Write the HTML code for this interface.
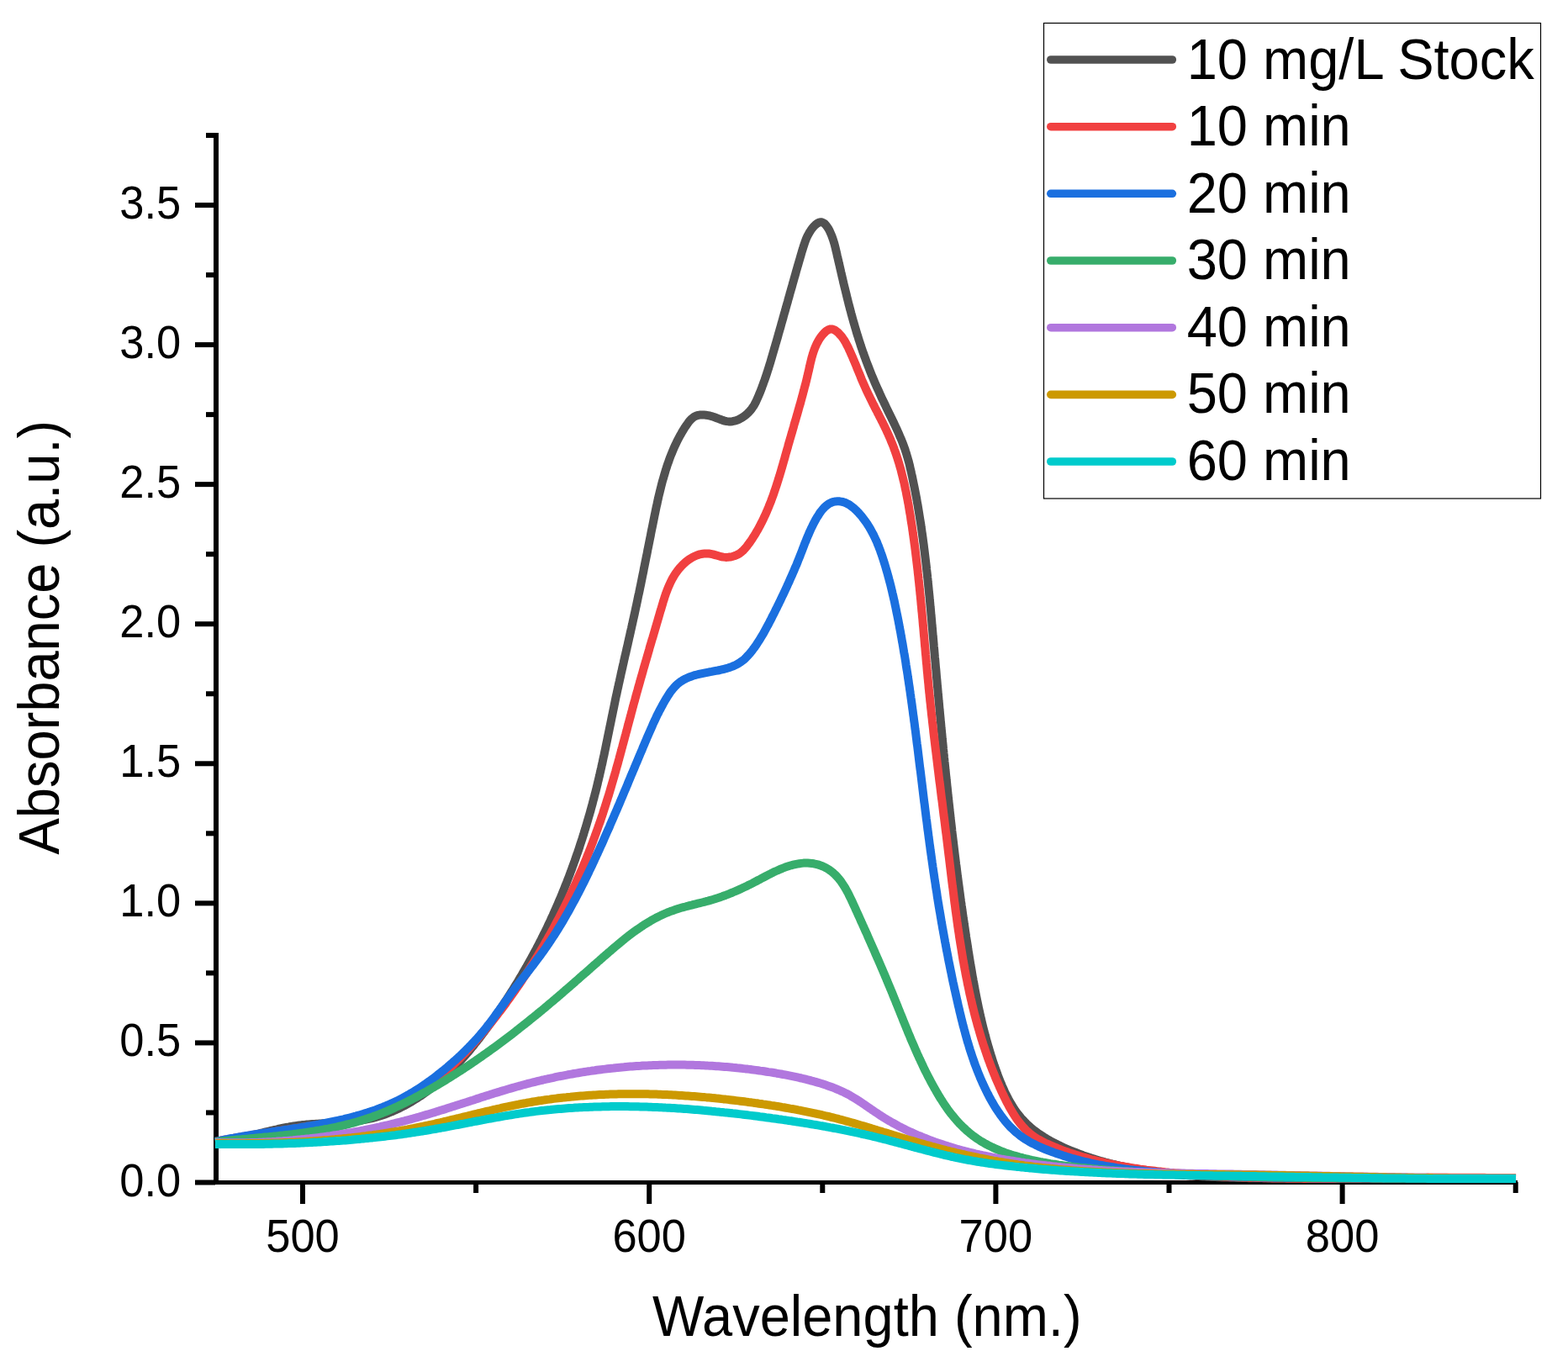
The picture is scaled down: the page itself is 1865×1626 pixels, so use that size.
<!DOCTYPE html>
<html><head><meta charset="utf-8"><title>Absorbance spectra</title>
<style>
html,body{margin:0;padding:0;background:#fff;}
body{width:1865px;height:1626px;overflow:hidden;}
svg{display:block;}
text{font-family:"Liberation Sans",Arial,sans-serif;fill:#000;}
</style></head><body>
<svg width="1865" height="1626" viewBox="0 0 1865 1626">
<rect x="0" y="0" width="1865" height="1626" fill="#fff"/>

<rect x="254" y="158" width="6" height="1251" fill="#000"/>
<rect x="232" y="1404" width="1573" height="5" fill="#000"/>
<rect x="232" y="1403.50" width="24" height="6" fill="#000"/>
<rect x="245" y="1320.46" width="11" height="6" fill="#000"/>
<rect x="232" y="1237.43" width="24" height="6" fill="#000"/>
<rect x="245" y="1154.39" width="11" height="6" fill="#000"/>
<rect x="232" y="1071.36" width="24" height="6" fill="#000"/>
<rect x="245" y="988.33" width="11" height="6" fill="#000"/>
<rect x="232" y="905.29" width="24" height="6" fill="#000"/>
<rect x="245" y="822.25" width="11" height="6" fill="#000"/>
<rect x="232" y="739.22" width="24" height="6" fill="#000"/>
<rect x="245" y="656.19" width="11" height="6" fill="#000"/>
<rect x="232" y="573.15" width="24" height="6" fill="#000"/>
<rect x="245" y="490.12" width="11" height="6" fill="#000"/>
<rect x="232" y="407.08" width="24" height="6" fill="#000"/>
<rect x="245" y="324.05" width="11" height="6" fill="#000"/>
<rect x="232" y="241.01" width="24" height="6" fill="#000"/>
<rect x="245" y="157.98" width="11" height="6" fill="#000"/>
<rect x="357.00" y="1406" width="6" height="26" fill="#000"/>
<rect x="563.10" y="1406" width="6" height="13" fill="#000"/>
<rect x="769.20" y="1406" width="6" height="26" fill="#000"/>
<rect x="975.30" y="1406" width="6" height="13" fill="#000"/>
<rect x="1181.40" y="1406" width="6" height="26" fill="#000"/>
<rect x="1387.50" y="1406" width="6" height="13" fill="#000"/>
<rect x="1593.60" y="1406" width="6" height="26" fill="#000"/>
<rect x="1799.70" y="1406" width="6" height="13" fill="#000"/>
<text transform="translate(215.3,1422.5) scale(1,1.045)" font-size="52.5" text-anchor="end">0.0</text>
<text transform="translate(215.3,1256.4) scale(1,1.045)" font-size="52.5" text-anchor="end">0.5</text>
<text transform="translate(215.3,1090.4) scale(1,1.045)" font-size="52.5" text-anchor="end">1.0</text>
<text transform="translate(215.3,924.3) scale(1,1.045)" font-size="52.5" text-anchor="end">1.5</text>
<text transform="translate(215.3,758.2) scale(1,1.045)" font-size="52.5" text-anchor="end">2.0</text>
<text transform="translate(215.3,592.2) scale(1,1.045)" font-size="52.5" text-anchor="end">2.5</text>
<text transform="translate(215.3,426.1) scale(1,1.045)" font-size="52.5" text-anchor="end">3.0</text>
<text transform="translate(215.3,260.0) scale(1,1.045)" font-size="52.5" text-anchor="end">3.5</text>
<text transform="translate(360.0,1488.7) scale(1,1.045)" font-size="52.5" text-anchor="middle">500</text>
<text transform="translate(772.2,1488.7) scale(1,1.045)" font-size="52.5" text-anchor="middle">600</text>
<text transform="translate(1184.4,1488.7) scale(1,1.045)" font-size="52.5" text-anchor="middle">700</text>
<text transform="translate(1596.6,1488.7) scale(1,1.045)" font-size="52.5" text-anchor="middle">800</text>
<text transform="translate(1031.3,1589) scale(1,1.045)" font-size="65" text-anchor="middle">Wavelength (nm.)</text>
<text transform="translate(69.6,758.2) rotate(-90) scale(1,1.045)" font-size="65" text-anchor="middle">Absorbance (a.u.)</text>
<path d="M256.0,1358.0 L258.5,1357.8 L261.0,1357.5 L263.5,1357.2 L266.0,1356.9 L268.5,1356.6 L270.9,1356.2 L273.4,1355.8 L275.9,1355.4 L278.3,1355.0 L280.8,1354.5 L283.2,1354.0 L285.7,1353.5 L288.1,1353.0 L290.6,1352.5 L293.0,1351.9 L295.4,1351.4 L297.9,1350.8 L300.3,1350.2 L302.7,1349.6 L305.2,1349.1 L307.6,1348.5 L310.0,1347.9 L312.5,1347.3 L314.9,1346.7 L317.3,1346.1 L319.8,1345.5 L322.2,1344.9 L324.6,1344.4 L327.0,1343.8 L329.5,1343.3 L331.9,1342.7 L334.4,1342.2 L336.8,1341.7 L339.3,1341.2 L341.7,1340.8 L344.2,1340.3 L346.6,1339.9 L349.1,1339.5 L351.6,1339.1 L354.0,1338.8 L356.5,1338.4 L359.0,1338.1 L361.5,1337.9 L364.0,1337.6 L366.5,1337.4 L369.0,1337.2 L371.5,1337.0 L374.0,1336.9 L376.5,1336.7 L379.0,1336.6 L381.6,1336.4 L384.1,1336.3 L386.6,1336.2 L389.1,1336.0 L391.6,1335.9 L394.1,1335.8 L396.7,1335.7 L399.2,1335.5 L401.7,1335.4 L404.2,1335.2 L406.7,1335.1 L409.2,1334.9 L411.7,1334.7 L414.2,1334.5 L416.7,1334.3 L419.2,1334.0 L421.7,1333.7 L424.1,1333.4 L426.6,1333.1 L429.1,1332.7 L431.5,1332.3 L434.0,1331.9 L436.4,1331.4 L438.9,1330.9 L441.3,1330.4 L443.7,1329.8 L446.1,1329.2 L448.5,1328.5 L450.9,1327.8 L453.3,1327.0 L455.6,1326.2 L458.0,1325.4 L460.3,1324.6 L462.6,1323.7 L465.0,1322.7 L467.3,1321.8 L469.5,1320.8 L471.8,1319.7 L474.1,1318.7 L476.3,1317.6 L478.6,1316.4 L480.8,1315.3 L483.0,1314.1 L485.2,1312.9 L487.3,1311.7 L489.5,1310.4 L491.6,1309.1 L493.7,1307.8 L495.8,1306.5 L497.9,1305.1 L500.0,1303.8 L502.0,1302.4 L504.1,1300.9 L506.1,1299.5 L508.1,1298.0 L510.1,1296.5 L512.0,1295.0 L514.0,1293.5 L515.9,1291.9 L517.8,1290.4 L519.7,1288.8 L521.6,1287.2 L523.5,1285.6 L525.4,1283.9 L527.2,1282.3 L529.0,1280.6 L530.9,1278.9 L532.7,1277.2 L534.4,1275.4 L536.2,1273.7 L538.0,1271.9 L539.7,1270.2 L541.5,1268.4 L543.2,1266.6 L544.9,1264.8 L546.6,1262.9 L548.3,1261.1 L550.0,1259.2 L551.6,1257.4 L553.3,1255.5 L554.9,1253.6 L556.6,1251.7 L558.2,1249.8 L559.8,1247.8 L561.4,1245.9 L563.0,1244.0 L564.5,1242.0 L566.1,1240.0 L567.7,1238.1 L569.2,1236.1 L570.8,1234.1 L572.3,1232.1 L573.8,1230.1 L575.3,1228.1 L576.8,1226.0 L578.3,1224.0 L579.8,1222.0 L581.3,1219.9 L582.7,1217.9 L584.2,1215.9 L585.6,1213.8 L587.1,1211.7 L588.5,1209.7 L590.0,1207.6 L591.4,1205.6 L592.8,1203.5 L594.2,1201.4 L595.6,1199.3 L597.0,1197.3 L598.4,1195.2 L599.8,1193.1 L601.1,1191.0 L602.5,1188.9 L603.9,1186.8 L605.2,1184.7 L606.6,1182.6 L607.9,1180.5 L609.2,1178.4 L610.6,1176.3 L611.9,1174.1 L613.2,1172.0 L614.5,1169.9 L615.8,1167.8 L617.1,1165.6 L618.3,1163.5 L619.6,1161.4 L620.9,1159.2 L622.1,1157.1 L623.4,1154.9 L624.6,1152.8 L625.9,1150.6 L627.1,1148.4 L628.3,1146.3 L629.5,1144.1 L630.8,1141.9 L632.0,1139.8 L633.1,1137.6 L634.3,1135.4 L635.5,1133.2 L636.7,1131.0 L637.9,1128.8 L639.0,1126.6 L640.2,1124.4 L641.3,1122.2 L642.4,1120.0 L643.6,1117.8 L644.7,1115.5 L645.8,1113.3 L646.9,1111.1 L648.0,1108.9 L649.1,1106.6 L650.2,1104.4 L651.3,1102.1 L652.3,1099.9 L653.4,1097.6 L654.5,1095.4 L655.5,1093.1 L656.5,1090.9 L657.6,1088.6 L658.6,1086.3 L659.6,1084.0 L660.6,1081.8 L661.6,1079.5 L662.6,1077.2 L663.6,1074.9 L664.6,1072.6 L665.6,1070.3 L666.6,1068.0 L667.5,1065.7 L668.5,1063.4 L669.4,1061.1 L670.4,1058.8 L671.3,1056.4 L672.2,1054.1 L673.2,1051.8 L674.1,1049.5 L675.0,1047.1 L675.9,1044.8 L676.8,1042.5 L677.7,1040.1 L678.5,1037.8 L679.4,1035.4 L680.3,1033.1 L681.1,1030.7 L682.0,1028.4 L682.8,1026.0 L683.7,1023.7 L684.5,1021.3 L685.3,1018.9 L686.1,1016.6 L687.0,1014.2 L687.8,1011.8 L688.6,1009.5 L689.4,1007.1 L690.1,1004.7 L690.9,1002.3 L691.7,999.9 L692.5,997.6 L693.2,995.2 L694.0,992.8 L694.7,990.4 L695.4,988.0 L696.2,985.6 L696.9,983.2 L697.6,980.8 L698.3,978.4 L699.0,976.0 L699.7,973.6 L700.4,971.2 L701.1,968.8 L701.8,966.4 L702.5,964.0 L703.1,961.6 L703.8,959.1 L704.5,956.7 L705.1,954.3 L705.7,951.9 L706.4,949.5 L707.0,947.1 L707.6,944.6 L708.3,942.2 L708.9,939.8 L709.5,937.4 L710.1,934.9 L710.7,932.5 L711.2,930.1 L711.8,927.7 L712.4,925.2 L713.0,922.8 L713.5,920.4 L714.1,917.9 L714.6,915.5 L715.2,913.1 L715.7,910.6 L716.3,908.2 L716.8,905.8 L717.3,903.3 L717.8,900.9 L718.4,898.5 L718.9,896.0 L719.4,893.6 L719.9,891.2 L720.4,888.7 L720.9,886.3 L721.4,883.8 L721.9,881.4 L722.4,879.0 L722.9,876.5 L723.4,874.1 L723.9,871.7 L724.4,869.2 L724.9,866.8 L725.4,864.3 L725.9,861.9 L726.4,859.4 L726.9,857.0 L727.4,854.6 L727.9,852.1 L728.4,849.7 L728.9,847.2 L729.4,844.8 L729.9,842.4 L730.4,839.9 L730.9,837.5 L731.4,835.0 L731.9,832.6 L732.4,830.1 L732.9,827.7 L733.5,825.3 L734.0,822.8 L734.5,820.4 L735.1,817.9 L735.6,815.5 L736.1,813.1 L736.7,810.6 L737.2,808.2 L737.8,805.7 L738.3,803.3 L738.8,800.8 L739.4,798.4 L739.9,796.0 L740.5,793.5 L741.0,791.1 L741.6,788.6 L742.1,786.2 L742.7,783.7 L743.2,781.3 L743.8,778.9 L744.4,776.4 L744.9,774.0 L745.5,771.5 L746.0,769.1 L746.6,766.7 L747.1,764.2 L747.7,761.8 L748.2,759.3 L748.8,756.9 L749.3,754.5 L749.9,752.0 L750.4,749.6 L751.0,747.1 L751.5,744.7 L752.1,742.2 L752.6,739.8 L753.1,737.4 L753.7,734.9 L754.2,732.5 L754.8,730.0 L755.3,727.6 L755.8,725.2 L756.3,722.7 L756.9,720.3 L757.4,717.8 L757.9,715.4 L758.4,713.0 L758.9,710.5 L759.4,708.1 L760.0,705.6 L760.5,703.2 L761.0,700.7 L761.5,698.3 L762.0,695.9 L762.5,693.4 L763.0,691.0 L763.5,688.5 L764.0,686.1 L764.5,683.6 L765.0,681.2 L765.5,678.8 L765.9,676.3 L766.4,673.9 L766.9,671.4 L767.4,669.0 L767.9,666.5 L768.4,664.1 L768.9,661.6 L769.4,659.2 L769.9,656.8 L770.3,654.3 L770.8,651.9 L771.3,649.4 L771.8,647.0 L772.3,644.5 L772.8,642.1 L773.3,639.6 L773.8,637.2 L774.2,634.7 L774.7,632.3 L775.2,629.8 L775.7,627.4 L776.2,624.9 L776.7,622.4 L777.2,620.0 L777.7,617.5 L778.2,615.1 L778.7,612.6 L779.2,610.2 L779.7,607.7 L780.2,605.3 L780.7,602.8 L781.3,600.4 L781.8,597.9 L782.3,595.5 L782.9,593.0 L783.4,590.6 L784.0,588.1 L784.6,585.7 L785.2,583.3 L785.8,580.8 L786.4,578.4 L787.0,576.0 L787.6,573.6 L788.3,571.2 L789.0,568.8 L789.7,566.4 L790.4,564.0 L791.1,561.6 L791.8,559.2 L792.6,556.9 L793.3,554.5 L794.1,552.1 L795.0,549.8 L795.8,547.4 L796.6,545.1 L797.5,542.8 L798.4,540.5 L799.4,538.2 L800.3,535.9 L801.3,533.6 L802.3,531.3 L803.3,529.1 L804.4,526.8 L805.5,524.6 L806.6,522.3 L807.8,520.1 L809.0,517.9 L810.3,515.7 L811.5,513.5 L812.9,511.3 L814.2,509.1 L815.6,507.0 L817.1,504.9 L818.6,502.7 L820.2,500.7 L821.9,498.8 L823.7,497.2 L825.6,495.8 L827.7,494.8 L829.9,494.0 L832.2,493.6 L834.6,493.4 L837.1,493.4 L839.6,493.7 L842.2,494.1 L844.8,494.7 L847.3,495.4 L849.9,496.3 L852.4,497.2 L854.8,498.1 L857.2,499.0 L859.5,499.9 L861.9,500.6 L864.2,501.1 L866.6,501.4 L868.9,501.4 L871.3,501.2 L873.7,500.7 L876.0,500.0 L878.4,499.1 L880.6,497.9 L882.9,496.6 L885.0,495.2 L887.1,493.6 L889.0,491.8 L890.9,490.0 L892.6,488.1 L894.2,486.1 L895.6,484.0 L897.0,481.9 L898.2,479.7 L899.3,477.5 L900.3,475.3 L901.3,473.0 L902.3,470.7 L903.2,468.5 L904.2,466.2 L905.1,463.9 L906.0,461.5 L906.8,459.2 L907.7,456.9 L908.5,454.5 L909.4,452.2 L910.2,449.8 L911.0,447.5 L911.8,445.1 L912.6,442.7 L913.3,440.3 L914.1,438.0 L914.8,435.6 L915.6,433.2 L916.3,430.8 L917.0,428.4 L917.7,426.0 L918.4,423.6 L919.1,421.2 L919.8,418.8 L920.5,416.4 L921.2,414.0 L921.9,411.6 L922.6,409.2 L923.3,406.8 L924.0,404.4 L924.7,402.0 L925.4,399.6 L926.0,397.2 L926.7,394.8 L927.4,392.4 L928.1,390.0 L928.8,387.6 L929.4,385.2 L930.1,382.8 L930.8,380.4 L931.5,378.0 L932.1,375.6 L932.8,373.2 L933.5,370.8 L934.2,368.4 L934.8,366.0 L935.5,363.6 L936.2,361.2 L936.9,358.8 L937.5,356.4 L938.2,354.0 L938.9,351.6 L939.5,349.2 L940.2,346.8 L940.9,344.4 L941.6,342.0 L942.3,339.6 L942.9,337.2 L943.6,334.8 L944.3,332.3 L945.0,329.9 L945.7,327.5 L946.4,325.1 L947.0,322.7 L947.7,320.3 L948.4,317.9 L949.1,315.5 L949.8,313.1 L950.5,310.7 L951.2,308.3 L951.9,305.9 L952.6,303.5 L953.3,301.0 L954.0,298.6 L954.8,296.2 L955.5,293.8 L956.3,291.4 L957.1,289.0 L957.9,286.7 L958.8,284.3 L959.8,282.0 L960.9,279.8 L962.1,277.6 L963.4,275.4 L964.8,273.3 L966.3,271.3 L968.0,269.3 L969.8,267.5 L971.8,265.9 L973.7,264.8 L975.6,264.2 L977.5,264.3 L979.2,265.0 L980.9,266.2 L982.5,267.9 L984.0,269.9 L985.5,272.2 L986.8,274.8 L988.0,277.5 L989.2,280.2 L990.2,283.0 L991.1,285.6 L991.9,288.2 L992.6,290.6 L993.2,293.0 L993.8,295.4 L994.3,297.7 L994.9,300.0 L995.4,302.3 L995.9,304.6 L996.5,307.0 L997.0,309.3 L997.6,311.7 L998.1,314.0 L998.7,316.4 L999.2,318.8 L999.8,321.2 L1000.3,323.6 L1000.9,326.0 L1001.4,328.4 L1002.0,330.8 L1002.6,333.3 L1003.1,335.7 L1003.7,338.1 L1004.3,340.6 L1004.9,343.0 L1005.5,345.4 L1006.1,347.9 L1006.7,350.3 L1007.3,352.8 L1007.9,355.2 L1008.5,357.7 L1009.1,360.1 L1009.7,362.6 L1010.4,365.0 L1011.0,367.5 L1011.7,369.9 L1012.3,372.3 L1013.0,374.8 L1013.6,377.2 L1014.3,379.6 L1015.0,382.1 L1015.7,384.5 L1016.4,386.9 L1017.1,389.3 L1017.8,391.7 L1018.5,394.1 L1019.2,396.5 L1019.9,398.9 L1020.7,401.2 L1021.4,403.6 L1022.2,406.0 L1023.0,408.4 L1023.7,410.7 L1024.5,413.1 L1025.3,415.4 L1026.1,417.8 L1026.9,420.1 L1027.8,422.5 L1028.6,424.8 L1029.5,427.1 L1030.3,429.5 L1031.2,431.8 L1032.1,434.1 L1033.0,436.4 L1033.9,438.8 L1034.8,441.1 L1035.7,443.4 L1036.6,445.7 L1037.6,448.0 L1038.6,450.3 L1039.5,452.6 L1040.5,454.9 L1041.5,457.2 L1042.5,459.5 L1043.5,461.8 L1044.6,464.0 L1045.6,466.3 L1046.6,468.6 L1047.7,470.9 L1048.7,473.2 L1049.8,475.4 L1050.9,477.7 L1052.0,480.0 L1053.1,482.2 L1054.1,484.5 L1055.2,486.7 L1056.3,489.0 L1057.4,491.2 L1058.5,493.5 L1059.6,495.7 L1060.7,498.0 L1061.8,500.2 L1062.9,502.5 L1064.0,504.8 L1065.0,507.0 L1066.1,509.3 L1067.1,511.6 L1068.1,513.8 L1069.1,516.1 L1070.1,518.4 L1071.1,520.7 L1072.1,523.0 L1073.0,525.3 L1073.9,527.6 L1074.8,530.0 L1075.6,532.3 L1076.5,534.6 L1077.2,537.0 L1078.0,539.4 L1078.7,541.8 L1079.4,544.2 L1080.1,546.6 L1080.8,549.0 L1081.4,551.4 L1082.0,553.8 L1082.5,556.3 L1083.1,558.7 L1083.7,561.2 L1084.2,563.6 L1084.8,566.1 L1085.3,568.5 L1085.8,571.0 L1086.3,573.4 L1086.8,575.9 L1087.3,578.3 L1087.8,580.8 L1088.3,583.2 L1088.8,585.7 L1089.2,588.1 L1089.7,590.6 L1090.2,593.1 L1090.6,595.5 L1091.0,598.0 L1091.5,600.4 L1091.9,602.9 L1092.3,605.4 L1092.7,607.8 L1093.1,610.3 L1093.5,612.7 L1093.9,615.2 L1094.3,617.7 L1094.7,620.1 L1095.1,622.6 L1095.5,625.1 L1095.8,627.5 L1096.2,630.0 L1096.5,632.5 L1096.9,634.9 L1097.2,637.4 L1097.6,639.9 L1097.9,642.4 L1098.2,644.8 L1098.6,647.3 L1098.9,649.8 L1099.2,652.3 L1099.5,654.7 L1099.8,657.2 L1100.1,659.7 L1100.4,662.2 L1100.7,664.6 L1101.0,667.1 L1101.3,669.6 L1101.6,672.1 L1101.9,674.6 L1102.1,677.0 L1102.4,679.5 L1102.7,682.0 L1103.0,684.5 L1103.2,687.0 L1103.5,689.4 L1103.7,691.9 L1104.0,694.4 L1104.2,696.9 L1104.5,699.4 L1104.7,701.9 L1105.0,704.3 L1105.2,706.8 L1105.5,709.3 L1105.7,711.8 L1105.9,714.3 L1106.2,716.8 L1106.4,719.3 L1106.6,721.7 L1106.9,724.2 L1107.1,726.7 L1107.3,729.2 L1107.5,731.7 L1107.8,734.2 L1108.0,736.7 L1108.2,739.2 L1108.4,741.6 L1108.6,744.1 L1108.9,746.6 L1109.1,749.1 L1109.3,751.6 L1109.5,754.1 L1109.7,756.6 L1110.0,759.1 L1110.2,761.6 L1110.4,764.0 L1110.6,766.5 L1110.8,769.0 L1111.1,771.5 L1111.3,774.0 L1111.5,776.5 L1111.7,779.0 L1111.9,781.5 L1112.2,784.0 L1112.4,786.5 L1112.6,788.9 L1112.8,791.4 L1113.0,793.9 L1113.3,796.4 L1113.5,798.9 L1113.7,801.4 L1113.9,803.9 L1114.1,806.4 L1114.4,808.9 L1114.6,811.4 L1114.8,813.8 L1115.0,816.3 L1115.3,818.8 L1115.5,821.3 L1115.7,823.8 L1115.9,826.3 L1116.2,828.8 L1116.4,831.3 L1116.6,833.8 L1116.9,836.3 L1117.1,838.8 L1117.3,841.2 L1117.5,843.7 L1117.8,846.2 L1118.0,848.7 L1118.2,851.2 L1118.5,853.7 L1118.7,856.2 L1118.9,858.7 L1119.2,861.2 L1119.4,863.7 L1119.6,866.1 L1119.9,868.6 L1120.1,871.1 L1120.4,873.6 L1120.6,876.1 L1120.8,878.6 L1121.1,881.1 L1121.3,883.6 L1121.6,886.1 L1121.8,888.5 L1122.0,891.0 L1122.3,893.5 L1122.5,896.0 L1122.8,898.5 L1123.0,901.0 L1123.3,903.5 L1123.5,906.0 L1123.8,908.5 L1124.0,910.9 L1124.3,913.4 L1124.5,915.9 L1124.8,918.4 L1125.0,920.9 L1125.3,923.4 L1125.6,925.9 L1125.8,928.4 L1126.1,930.8 L1126.3,933.3 L1126.6,935.8 L1126.9,938.3 L1127.1,940.8 L1127.4,943.3 L1127.6,945.8 L1127.9,948.2 L1128.2,950.7 L1128.4,953.2 L1128.7,955.7 L1129.0,958.2 L1129.3,960.7 L1129.5,963.2 L1129.8,965.6 L1130.1,968.1 L1130.4,970.6 L1130.6,973.1 L1130.9,975.6 L1131.2,978.1 L1131.5,980.5 L1131.8,983.0 L1132.1,985.5 L1132.3,988.0 L1132.6,990.5 L1132.9,993.0 L1133.2,995.4 L1133.5,997.9 L1133.8,1000.4 L1134.1,1002.9 L1134.4,1005.4 L1134.7,1007.8 L1135.0,1010.3 L1135.3,1012.8 L1135.6,1015.3 L1135.9,1017.8 L1136.2,1020.2 L1136.5,1022.7 L1136.8,1025.2 L1137.1,1027.7 L1137.5,1030.1 L1137.8,1032.6 L1138.1,1035.1 L1138.4,1037.6 L1138.7,1040.1 L1139.0,1042.5 L1139.4,1045.0 L1139.7,1047.5 L1140.0,1050.0 L1140.3,1052.4 L1140.7,1054.9 L1141.0,1057.4 L1141.3,1059.9 L1141.7,1062.3 L1142.0,1064.8 L1142.3,1067.3 L1142.7,1069.8 L1143.0,1072.2 L1143.4,1074.7 L1143.7,1077.2 L1144.1,1079.6 L1144.4,1082.1 L1144.8,1084.6 L1145.1,1087.1 L1145.5,1089.5 L1145.8,1092.0 L1146.2,1094.5 L1146.6,1096.9 L1146.9,1099.4 L1147.3,1101.9 L1147.7,1104.3 L1148.0,1106.8 L1148.4,1109.3 L1148.8,1111.7 L1149.1,1114.2 L1149.5,1116.7 L1149.9,1119.1 L1150.3,1121.6 L1150.7,1124.1 L1151.1,1126.5 L1151.4,1129.0 L1151.8,1131.5 L1152.2,1133.9 L1152.6,1136.4 L1153.0,1138.9 L1153.4,1141.3 L1153.8,1143.8 L1154.2,1146.2 L1154.6,1148.7 L1155.1,1151.2 L1155.5,1153.6 L1155.9,1156.1 L1156.3,1158.5 L1156.7,1161.0 L1157.2,1163.4 L1157.6,1165.9 L1158.1,1168.4 L1158.5,1170.8 L1159.0,1173.3 L1159.4,1175.7 L1159.9,1178.2 L1160.3,1180.6 L1160.8,1183.1 L1161.3,1185.5 L1161.8,1187.9 L1162.3,1190.4 L1162.8,1192.8 L1163.3,1195.3 L1163.8,1197.7 L1164.3,1200.2 L1164.9,1202.6 L1165.4,1205.0 L1165.9,1207.5 L1166.5,1209.9 L1167.1,1212.3 L1167.6,1214.8 L1168.2,1217.2 L1168.8,1219.6 L1169.4,1222.1 L1170.0,1224.5 L1170.6,1226.9 L1171.3,1229.3 L1171.9,1231.7 L1172.6,1234.2 L1173.2,1236.6 L1173.9,1239.0 L1174.6,1241.4 L1175.3,1243.8 L1176.0,1246.2 L1176.7,1248.6 L1177.4,1251.0 L1178.1,1253.4 L1178.9,1255.8 L1179.7,1258.2 L1180.4,1260.6 L1181.2,1263.0 L1182.0,1265.4 L1182.8,1267.8 L1183.7,1270.2 L1184.5,1272.6 L1185.4,1274.9 L1186.2,1277.3 L1187.1,1279.7 L1188.0,1282.1 L1188.9,1284.4 L1189.9,1286.8 L1190.9,1289.1 L1191.8,1291.4 L1192.8,1293.7 L1193.9,1296.0 L1194.9,1298.3 L1196.0,1300.6 L1197.1,1302.8 L1198.3,1305.1 L1199.4,1307.3 L1200.6,1309.4 L1201.8,1311.6 L1203.1,1313.7 L1204.4,1315.8 L1205.7,1317.9 L1207.1,1320.0 L1208.5,1322.0 L1209.9,1324.0 L1211.4,1325.9 L1212.9,1327.8 L1214.5,1329.7 L1216.1,1331.5 L1217.8,1333.3 L1219.5,1335.1 L1221.2,1336.8 L1223.0,1338.5 L1224.8,1340.1 L1226.7,1341.7 L1228.6,1343.3 L1230.5,1344.8 L1232.5,1346.3 L1234.5,1347.8 L1236.6,1349.2 L1238.6,1350.6 L1240.8,1351.9 L1242.9,1353.3 L1245.0,1354.6 L1247.2,1355.8 L1249.4,1357.1 L1251.6,1358.3 L1253.9,1359.4 L1256.1,1360.6 L1258.4,1361.7 L1260.7,1362.8 L1262.9,1363.9 L1265.2,1365.0 L1267.5,1366.0 L1269.9,1367.0 L1272.2,1368.0 L1274.5,1369.0 L1276.8,1369.9 L1279.2,1370.8 L1281.5,1371.7 L1283.9,1372.6 L1286.2,1373.5 L1288.6,1374.4 L1291.0,1375.2 L1293.3,1376.0 L1295.7,1376.8 L1298.1,1377.6 L1300.5,1378.3 L1302.9,1379.1 L1305.3,1379.8 L1307.7,1380.5 L1310.1,1381.2 L1312.5,1381.8 L1314.9,1382.5 L1317.3,1383.1 L1319.7,1383.8 L1322.2,1384.4 L1324.6,1385.0 L1327.0,1385.5 L1329.4,1386.1 L1331.9,1386.7 L1334.3,1387.2 L1336.8,1387.7 L1339.2,1388.2 L1341.6,1388.7 L1344.1,1389.2 L1346.5,1389.7 L1349.0,1390.1 L1351.4,1390.6 L1353.9,1391.0 L1356.3,1391.5 L1358.8,1391.9 L1361.3,1392.3 L1363.7,1392.6 L1366.2,1393.0 L1368.6,1393.4 L1371.1,1393.7 L1373.6,1394.1 L1376.0,1394.4 L1378.5,1394.7 L1381.0,1395.1 L1383.4,1395.4 L1385.9,1395.7 L1388.4,1395.9 L1390.9,1396.2 L1393.3,1396.5 L1395.8,1396.7 L1398.3,1397.0 L1400.8,1397.2 L1403.3,1397.4 L1405.7,1397.7 L1408.2,1397.9 L1410.7,1398.1 L1413.2,1398.3 L1415.7,1398.4 L1418.2,1398.6 L1420.7,1398.8 L1423.1,1399.0 L1425.6,1399.1 L1428.1,1399.3 L1430.6,1399.4 L1433.1,1399.5 L1435.6,1399.7 L1438.1,1399.8 L1440.6,1399.9 L1443.1,1400.0 L1445.6,1400.1 L1448.1,1400.2 L1450.6,1400.3 L1453.1,1400.4 L1455.6,1400.5 L1458.1,1400.6 L1460.6,1400.6 L1463.1,1400.7 L1465.6,1400.8 L1468.1,1400.8 L1470.6,1400.9 L1473.1,1401.0 L1475.6,1401.0 L1478.1,1401.0 L1480.6,1401.1 L1483.1,1401.1 L1485.6,1401.2 L1488.1,1401.2 L1490.6,1401.2 L1493.1,1401.2 L1495.6,1401.3 L1498.1,1401.3 L1500.6,1401.3 L1503.1,1401.3 L1505.6,1401.3 L1508.1,1401.4 L1510.6,1401.4 L1513.2,1401.4 L1515.7,1401.4 L1518.2,1401.4 L1520.7,1401.4 L1523.2,1401.4 L1525.7,1401.4 L1528.2,1401.4 L1530.7,1401.4 L1533.2,1401.5 L1535.7,1401.5 L1538.2,1401.5 L1540.7,1401.5 L1543.2,1401.5 L1545.7,1401.5 L1548.2,1401.5 L1550.7,1401.5 L1553.2,1401.5 L1555.7,1401.5 L1558.2,1401.5 L1560.7,1401.5 L1563.2,1401.5 L1565.7,1401.5 L1568.2,1401.5 L1570.7,1401.5 L1573.2,1401.5 L1575.7,1401.5 L1578.2,1401.5 L1580.7,1401.5 L1583.2,1401.5 L1585.7,1401.5 L1588.2,1401.5 L1590.7,1401.5 L1593.2,1401.5 L1595.7,1401.5 L1598.2,1401.5 L1600.7,1401.5 L1603.2,1401.5 L1605.7,1401.5 L1608.2,1401.5 L1610.6,1401.5 L1613.1,1401.5 L1615.6,1401.5 L1618.1,1401.5 L1620.6,1401.5 L1623.1,1401.5 L1625.6,1401.5 L1628.1,1401.5 L1630.6,1401.5 L1633.1,1401.5 L1635.6,1401.5 L1638.1,1401.5 L1640.6,1401.5 L1643.1,1401.5 L1645.6,1401.5 L1648.1,1401.5 L1650.6,1401.5 L1653.1,1401.5 L1655.6,1401.5 L1658.1,1401.5 L1660.6,1401.5 L1663.1,1401.5 L1665.6,1401.5 L1668.1,1401.5 L1670.6,1401.5 L1673.1,1401.5 L1675.6,1401.4 L1678.0,1401.4 L1680.5,1401.4 L1683.0,1401.4 L1685.5,1401.4 L1688.0,1401.4 L1690.5,1401.4 L1693.0,1401.4 L1695.5,1401.4 L1698.0,1401.4 L1700.5,1401.4 L1703.0,1401.4 L1705.5,1401.4 L1708.0,1401.4 L1710.5,1401.4 L1713.0,1401.4 L1715.5,1401.4 L1718.0,1401.4 L1720.5,1401.4 L1723.0,1401.4 L1725.5,1401.4 L1728.0,1401.4 L1730.5,1401.4 L1733.0,1401.4 L1735.5,1401.4 L1738.0,1401.4 L1740.5,1401.4 L1743.0,1401.4 L1745.5,1401.4 L1748.0,1401.4 L1750.5,1401.4 L1753.0,1401.4 L1755.5,1401.4 L1758.0,1401.4 L1760.5,1401.4 L1763.0,1401.4 L1765.5,1401.4 L1768.0,1401.4 L1770.5,1401.4 L1773.0,1401.4 L1775.5,1401.4 L1778.0,1401.4 L1780.5,1401.4 L1783.0,1401.4 L1785.5,1401.5 L1788.0,1401.5 L1790.5,1401.5 L1793.0,1401.5 L1795.5,1401.5 L1798.0,1401.5 L1800.5,1401.5 L1803.0,1401.5" fill="none" stroke="#515151" stroke-width="10.0" stroke-linejoin="round" stroke-linecap="butt"/>
<path d="M256.0,1358.0 L258.5,1357.5 L261.0,1357.0 L263.5,1356.5 L265.9,1356.0 L268.4,1355.5 L270.9,1355.1 L273.4,1354.6 L275.9,1354.2 L278.3,1353.7 L280.8,1353.3 L283.3,1352.9 L285.7,1352.4 L288.2,1352.0 L290.7,1351.6 L293.1,1351.2 L295.6,1350.8 L298.1,1350.4 L300.5,1350.0 L303.0,1349.6 L305.4,1349.2 L307.9,1348.9 L310.3,1348.5 L312.8,1348.1 L315.2,1347.7 L317.7,1347.4 L320.1,1347.0 L322.6,1346.6 L325.0,1346.2 L327.5,1345.9 L329.9,1345.5 L332.4,1345.2 L334.8,1344.8 L337.3,1344.4 L339.7,1344.1 L342.2,1343.7 L344.6,1343.3 L347.0,1343.0 L349.5,1342.6 L351.9,1342.2 L354.4,1341.8 L356.8,1341.5 L359.3,1341.1 L361.7,1340.7 L364.2,1340.3 L366.6,1339.9 L369.1,1339.5 L371.5,1339.1 L374.0,1338.7 L376.4,1338.3 L378.9,1337.9 L381.4,1337.5 L383.8,1337.0 L386.3,1336.6 L388.7,1336.2 L391.2,1335.7 L393.7,1335.3 L396.1,1334.8 L398.6,1334.3 L401.1,1333.9 L403.5,1333.4 L406.0,1332.9 L408.5,1332.4 L411.0,1331.9 L413.4,1331.3 L415.9,1330.8 L418.4,1330.3 L420.8,1329.7 L423.3,1329.1 L425.8,1328.5 L428.2,1327.9 L430.7,1327.3 L433.2,1326.7 L435.6,1326.0 L438.1,1325.4 L440.5,1324.7 L442.9,1324.0 L445.3,1323.3 L447.7,1322.5 L450.1,1321.7 L452.5,1321.0 L454.9,1320.1 L457.3,1319.3 L459.6,1318.5 L462.0,1317.6 L464.3,1316.7 L466.6,1315.7 L468.9,1314.8 L471.2,1313.8 L473.5,1312.8 L475.7,1311.8 L478.0,1310.7 L480.2,1309.6 L482.4,1308.5 L484.6,1307.3 L486.8,1306.2 L488.9,1304.9 L491.0,1303.7 L493.2,1302.5 L495.3,1301.2 L497.4,1299.9 L499.4,1298.6 L501.5,1297.2 L503.5,1295.8 L505.6,1294.4 L507.6,1293.0 L509.6,1291.6 L511.6,1290.1 L513.6,1288.6 L515.5,1287.1 L517.5,1285.6 L519.4,1284.1 L521.3,1282.5 L523.2,1280.9 L525.1,1279.3 L527.0,1277.7 L528.9,1276.1 L530.7,1274.4 L532.6,1272.8 L534.4,1271.1 L536.3,1269.4 L538.1,1267.7 L539.9,1266.0 L541.7,1264.2 L543.4,1262.5 L545.2,1260.7 L547.0,1258.9 L548.7,1257.1 L550.4,1255.3 L552.2,1253.5 L553.9,1251.7 L555.6,1249.8 L557.3,1248.0 L559.0,1246.1 L560.7,1244.2 L562.3,1242.3 L564.0,1240.5 L565.7,1238.6 L567.3,1236.7 L568.9,1234.7 L570.6,1232.8 L572.2,1230.9 L573.8,1229.0 L575.4,1227.0 L577.0,1225.1 L578.6,1223.1 L580.2,1221.2 L581.8,1219.2 L583.4,1217.3 L584.9,1215.3 L586.5,1213.3 L588.0,1211.4 L589.6,1209.4 L591.1,1207.4 L592.6,1205.4 L594.2,1203.4 L595.7,1201.4 L597.2,1199.4 L598.7,1197.4 L600.2,1195.4 L601.7,1193.4 L603.1,1191.3 L604.6,1189.3 L606.1,1187.3 L607.6,1185.2 L609.0,1183.2 L610.4,1181.2 L611.9,1179.1 L613.3,1177.1 L614.7,1175.0 L616.2,1172.9 L617.6,1170.9 L619.0,1168.8 L620.4,1166.7 L621.8,1164.6 L623.1,1162.6 L624.5,1160.5 L625.9,1158.4 L627.3,1156.3 L628.6,1154.2 L630.0,1152.1 L631.3,1150.0 L632.6,1147.9 L634.0,1145.7 L635.3,1143.6 L636.6,1141.5 L637.9,1139.4 L639.2,1137.2 L640.5,1135.1 L641.8,1133.0 L643.1,1130.8 L644.3,1128.7 L645.6,1126.5 L646.9,1124.4 L648.1,1122.2 L649.3,1120.0 L650.6,1117.9 L651.8,1115.7 L653.0,1113.5 L654.3,1111.3 L655.5,1109.2 L656.7,1107.0 L657.9,1104.8 L659.1,1102.6 L660.2,1100.4 L661.4,1098.2 L662.6,1096.0 L663.7,1093.8 L664.9,1091.6 L666.0,1089.3 L667.2,1087.1 L668.3,1084.9 L669.4,1082.7 L670.6,1080.5 L671.7,1078.2 L672.8,1076.0 L673.9,1073.7 L675.0,1071.5 L676.1,1069.3 L677.1,1067.0 L678.2,1064.8 L679.3,1062.5 L680.3,1060.2 L681.4,1058.0 L682.4,1055.7 L683.5,1053.4 L684.5,1051.2 L685.5,1048.9 L686.5,1046.6 L687.5,1044.3 L688.5,1042.1 L689.5,1039.8 L690.5,1037.5 L691.5,1035.2 L692.5,1032.9 L693.5,1030.6 L694.4,1028.3 L695.4,1026.0 L696.3,1023.7 L697.3,1021.4 L698.2,1019.1 L699.1,1016.7 L700.1,1014.4 L701.0,1012.1 L701.9,1009.8 L702.8,1007.5 L703.7,1005.1 L704.6,1002.8 L705.4,1000.5 L706.3,998.1 L707.2,995.8 L708.0,993.4 L708.9,991.1 L709.7,988.7 L710.6,986.4 L711.4,984.0 L712.2,981.7 L713.1,979.3 L713.9,977.0 L714.7,974.6 L715.5,972.2 L716.3,969.9 L717.1,967.5 L717.8,965.1 L718.6,962.7 L719.4,960.4 L720.1,958.0 L720.9,955.6 L721.6,953.2 L722.4,950.8 L723.1,948.4 L723.9,946.1 L724.6,943.7 L725.3,941.3 L726.0,938.9 L726.7,936.5 L727.4,934.1 L728.1,931.7 L728.8,929.3 L729.5,926.9 L730.2,924.5 L730.9,922.1 L731.6,919.7 L732.3,917.3 L732.9,914.9 L733.6,912.4 L734.3,910.0 L735.0,907.6 L735.6,905.2 L736.3,902.8 L736.9,900.4 L737.6,898.0 L738.2,895.6 L738.9,893.1 L739.5,890.7 L740.2,888.3 L740.8,885.9 L741.5,883.5 L742.1,881.1 L742.8,878.6 L743.4,876.2 L744.1,873.8 L744.7,871.4 L745.4,869.0 L746.0,866.6 L746.6,864.2 L747.3,861.7 L747.9,859.3 L748.6,856.9 L749.2,854.5 L749.9,852.1 L750.5,849.7 L751.1,847.3 L751.8,844.8 L752.4,842.4 L753.1,840.0 L753.7,837.6 L754.4,835.2 L755.1,832.8 L755.7,830.4 L756.4,828.0 L757.0,825.6 L757.7,823.2 L758.4,820.8 L759.0,818.4 L759.7,816.0 L760.4,813.6 L761.1,811.2 L761.7,808.8 L762.4,806.4 L763.1,804.0 L763.8,801.6 L764.5,799.2 L765.1,796.8 L765.8,794.4 L766.5,792.0 L767.2,789.6 L767.9,787.2 L768.6,784.8 L769.3,782.4 L770.0,780.0 L770.7,777.6 L771.4,775.2 L772.1,772.8 L772.7,770.4 L773.4,768.0 L774.1,765.7 L774.8,763.3 L775.5,760.9 L776.3,758.5 L777.0,756.1 L777.7,753.7 L778.4,751.3 L779.1,748.9 L779.8,746.5 L780.5,744.1 L781.2,741.7 L781.9,739.3 L782.6,736.9 L783.3,734.5 L784.0,732.1 L784.7,729.7 L785.4,727.2 L786.2,724.8 L786.9,722.4 L787.6,720.0 L788.3,717.6 L789.0,715.2 L789.8,712.8 L790.5,710.4 L791.3,708.1 L792.1,705.7 L793.0,703.4 L793.9,701.0 L794.8,698.7 L795.8,696.4 L796.8,694.2 L797.9,691.9 L799.0,689.7 L800.2,687.5 L801.4,685.4 L802.7,683.3 L804.1,681.2 L805.6,679.2 L807.2,677.2 L808.8,675.2 L810.5,673.4 L812.3,671.5 L814.2,669.8 L816.1,668.1 L818.1,666.6 L820.1,665.1 L822.3,663.8 L824.4,662.5 L826.6,661.5 L828.9,660.5 L831.2,659.7 L833.5,659.1 L835.9,658.7 L838.2,658.4 L840.7,658.4 L843.1,658.5 L845.5,658.9 L848.0,659.4 L850.5,660.1 L853.0,660.8 L855.5,661.5 L858.0,662.2 L860.6,662.6 L863.2,662.9 L865.8,662.8 L868.4,662.6 L871.0,662.0 L873.4,661.3 L875.8,660.4 L878.1,659.2 L880.2,657.9 L882.2,656.3 L884.0,654.7 L885.7,652.9 L887.4,651.0 L888.9,649.1 L890.4,647.1 L891.9,645.0 L893.3,643.0 L894.7,640.9 L896.0,638.8 L897.4,636.7 L898.7,634.6 L899.9,632.4 L901.2,630.3 L902.4,628.1 L903.6,625.9 L904.7,623.7 L905.9,621.5 L907.0,619.3 L908.1,617.1 L909.1,614.8 L910.2,612.6 L911.2,610.3 L912.2,608.0 L913.1,605.7 L914.1,603.4 L915.0,601.1 L916.0,598.8 L916.9,596.5 L917.7,594.2 L918.6,591.8 L919.5,589.5 L920.3,587.1 L921.1,584.7 L921.9,582.4 L922.7,580.0 L923.5,577.6 L924.3,575.2 L925.0,572.8 L925.8,570.4 L926.5,568.0 L927.3,565.6 L928.0,563.2 L928.7,560.8 L929.4,558.4 L930.1,556.0 L930.8,553.6 L931.5,551.1 L932.2,548.7 L932.9,546.3 L933.6,543.9 L934.2,541.5 L934.9,539.0 L935.6,536.6 L936.3,534.2 L937.0,531.8 L937.6,529.4 L938.3,527.0 L939.0,524.6 L939.7,522.2 L940.4,519.8 L941.1,517.4 L941.8,515.0 L942.5,512.6 L943.2,510.2 L943.9,507.8 L944.5,505.4 L945.2,503.0 L945.9,500.7 L946.6,498.3 L947.3,495.9 L948.0,493.5 L948.7,491.1 L949.4,488.7 L950.0,486.3 L950.7,483.9 L951.4,481.5 L952.1,479.2 L952.7,476.8 L953.4,474.4 L954.0,472.0 L954.7,469.6 L955.3,467.2 L956.0,464.7 L956.6,462.3 L957.2,459.9 L957.9,457.5 L958.5,455.1 L959.1,452.7 L959.7,450.2 L960.3,447.8 L960.8,445.4 L961.4,442.9 L962.0,440.5 L962.5,438.0 L963.1,435.5 L963.6,433.1 L964.2,430.6 L964.8,428.2 L965.4,425.7 L966.1,423.3 L966.8,420.9 L967.6,418.5 L968.4,416.2 L969.3,413.8 L970.3,411.5 L971.3,409.2 L972.5,407.0 L973.7,404.7 L975.1,402.6 L976.6,400.4 L978.2,398.4 L980.0,396.4 L981.8,394.6 L983.8,393.1 L985.8,392.0 L987.8,391.4 L989.9,391.5 L992.0,392.2 L994.1,393.4 L996.1,394.9 L998.0,396.8 L999.8,398.8 L1001.5,400.8 L1003.0,403.0 L1004.4,405.1 L1005.7,407.3 L1006.9,409.6 L1008.1,411.9 L1009.2,414.1 L1010.2,416.4 L1011.3,418.7 L1012.3,421.0 L1013.3,423.3 L1014.3,425.6 L1015.3,427.9 L1016.3,430.2 L1017.2,432.5 L1018.2,434.8 L1019.1,437.1 L1020.0,439.4 L1021.0,441.7 L1021.9,444.0 L1022.9,446.3 L1023.8,448.6 L1024.7,450.9 L1025.7,453.2 L1026.7,455.5 L1027.7,457.8 L1028.7,460.0 L1029.7,462.3 L1030.7,464.6 L1031.8,466.8 L1032.9,469.1 L1034.0,471.3 L1035.1,473.6 L1036.2,475.8 L1037.3,478.0 L1038.4,480.3 L1039.6,482.5 L1040.7,484.8 L1041.8,487.0 L1043.0,489.2 L1044.1,491.5 L1045.3,493.7 L1046.4,495.9 L1047.6,498.2 L1048.7,500.4 L1049.8,502.6 L1050.9,504.9 L1052.0,507.1 L1053.1,509.4 L1054.2,511.7 L1055.2,513.9 L1056.3,516.2 L1057.3,518.5 L1058.3,520.8 L1059.3,523.1 L1060.2,525.4 L1061.2,527.7 L1062.1,530.0 L1063.0,532.3 L1063.8,534.7 L1064.7,537.0 L1065.5,539.3 L1066.3,541.7 L1067.1,544.1 L1067.8,546.4 L1068.6,548.8 L1069.3,551.2 L1070.0,553.6 L1070.7,556.0 L1071.4,558.4 L1072.0,560.8 L1072.6,563.2 L1073.2,565.6 L1073.8,568.0 L1074.4,570.5 L1075.0,572.9 L1075.6,575.3 L1076.1,577.8 L1076.6,580.2 L1077.1,582.6 L1077.7,585.1 L1078.1,587.5 L1078.6,590.0 L1079.1,592.5 L1079.6,594.9 L1080.0,597.4 L1080.5,599.8 L1080.9,602.3 L1081.3,604.8 L1081.7,607.2 L1082.1,609.7 L1082.6,612.2 L1083.0,614.6 L1083.3,617.1 L1083.7,619.6 L1084.1,622.1 L1084.5,624.5 L1084.9,627.0 L1085.2,629.5 L1085.6,632.0 L1085.9,634.4 L1086.3,636.9 L1086.6,639.4 L1087.0,641.9 L1087.3,644.3 L1087.6,646.8 L1088.0,649.3 L1088.3,651.8 L1088.6,654.2 L1088.9,656.7 L1089.2,659.2 L1089.5,661.7 L1089.8,664.2 L1090.1,666.6 L1090.4,669.1 L1090.7,671.6 L1091.0,674.1 L1091.3,676.6 L1091.6,679.1 L1091.8,681.5 L1092.1,684.0 L1092.4,686.5 L1092.6,689.0 L1092.9,691.5 L1093.2,694.0 L1093.4,696.4 L1093.7,698.9 L1093.9,701.4 L1094.2,703.9 L1094.4,706.4 L1094.7,708.9 L1094.9,711.3 L1095.2,713.8 L1095.4,716.3 L1095.6,718.8 L1095.9,721.3 L1096.1,723.8 L1096.3,726.3 L1096.6,728.8 L1096.8,731.2 L1097.0,733.7 L1097.3,736.2 L1097.5,738.7 L1097.7,741.2 L1097.9,743.7 L1098.2,746.2 L1098.4,748.7 L1098.6,751.1 L1098.8,753.6 L1099.0,756.1 L1099.3,758.6 L1099.5,761.1 L1099.7,763.6 L1099.9,766.1 L1100.1,768.6 L1100.4,771.0 L1100.6,773.5 L1100.8,776.0 L1101.0,778.5 L1101.3,781.0 L1101.5,783.5 L1101.7,786.0 L1101.9,788.5 L1102.2,790.9 L1102.4,793.4 L1102.6,795.9 L1102.8,798.4 L1103.1,800.9 L1103.3,803.4 L1103.5,805.9 L1103.8,808.4 L1104.0,810.8 L1104.3,813.3 L1104.5,815.8 L1104.7,818.3 L1105.0,820.8 L1105.2,823.3 L1105.5,825.7 L1105.7,828.2 L1106.0,830.7 L1106.2,833.2 L1106.5,835.7 L1106.8,838.2 L1107.0,840.7 L1107.3,843.1 L1107.6,845.6 L1107.8,848.1 L1108.1,850.6 L1108.4,853.1 L1108.7,855.5 L1108.9,858.0 L1109.2,860.5 L1109.5,863.0 L1109.8,865.5 L1110.1,867.9 L1110.3,870.4 L1110.6,872.9 L1110.9,875.4 L1111.2,877.9 L1111.5,880.4 L1111.8,882.8 L1112.1,885.3 L1112.4,887.8 L1112.7,890.3 L1113.0,892.8 L1113.3,895.2 L1113.6,897.7 L1113.9,900.2 L1114.2,902.7 L1114.5,905.1 L1114.8,907.6 L1115.1,910.1 L1115.4,912.6 L1115.7,915.1 L1116.0,917.5 L1116.3,920.0 L1116.6,922.5 L1116.9,925.0 L1117.2,927.5 L1117.5,929.9 L1117.9,932.4 L1118.2,934.9 L1118.5,937.4 L1118.8,939.9 L1119.1,942.3 L1119.4,944.8 L1119.7,947.3 L1120.0,949.8 L1120.4,952.3 L1120.7,954.7 L1121.0,957.2 L1121.3,959.7 L1121.6,962.2 L1121.9,964.7 L1122.2,967.1 L1122.5,969.6 L1122.9,972.1 L1123.2,974.6 L1123.5,977.1 L1123.8,979.5 L1124.1,982.0 L1124.4,984.5 L1124.7,987.0 L1125.0,989.5 L1125.4,991.9 L1125.7,994.4 L1126.0,996.9 L1126.3,999.4 L1126.6,1001.9 L1126.9,1004.3 L1127.2,1006.8 L1127.5,1009.3 L1127.8,1011.8 L1128.1,1014.3 L1128.4,1016.8 L1128.7,1019.2 L1129.0,1021.7 L1129.3,1024.2 L1129.6,1026.7 L1129.9,1029.2 L1130.2,1031.7 L1130.5,1034.1 L1130.8,1036.6 L1131.1,1039.1 L1131.4,1041.6 L1131.7,1044.1 L1132.0,1046.6 L1132.3,1049.1 L1132.6,1051.5 L1132.9,1054.0 L1133.3,1056.5 L1133.6,1059.0 L1133.9,1061.5 L1134.2,1063.9 L1134.5,1066.4 L1134.8,1068.9 L1135.1,1071.4 L1135.4,1073.9 L1135.8,1076.4 L1136.1,1078.8 L1136.4,1081.3 L1136.7,1083.8 L1137.1,1086.3 L1137.4,1088.7 L1137.8,1091.2 L1138.1,1093.7 L1138.4,1096.2 L1138.8,1098.6 L1139.1,1101.1 L1139.5,1103.6 L1139.8,1106.1 L1140.2,1108.5 L1140.6,1111.0 L1140.9,1113.5 L1141.3,1116.0 L1141.7,1118.4 L1142.1,1120.9 L1142.5,1123.4 L1142.9,1125.8 L1143.3,1128.3 L1143.7,1130.7 L1144.1,1133.2 L1144.5,1135.7 L1144.9,1138.1 L1145.3,1140.6 L1145.7,1143.1 L1146.2,1145.5 L1146.6,1148.0 L1147.1,1150.4 L1147.5,1152.9 L1148.0,1155.3 L1148.4,1157.8 L1148.9,1160.2 L1149.4,1162.7 L1149.9,1165.1 L1150.4,1167.6 L1150.8,1170.0 L1151.4,1172.5 L1151.9,1174.9 L1152.4,1177.3 L1152.9,1179.8 L1153.4,1182.2 L1154.0,1184.6 L1154.5,1187.1 L1155.1,1189.5 L1155.7,1191.9 L1156.2,1194.4 L1156.8,1196.8 L1157.4,1199.2 L1158.0,1201.6 L1158.6,1204.1 L1159.2,1206.5 L1159.8,1208.9 L1160.5,1211.3 L1161.1,1213.7 L1161.8,1216.1 L1162.4,1218.5 L1163.1,1220.9 L1163.8,1223.3 L1164.5,1225.7 L1165.2,1228.1 L1165.9,1230.5 L1166.6,1232.9 L1167.3,1235.3 L1168.1,1237.7 L1168.8,1240.1 L1169.6,1242.5 L1170.4,1244.9 L1171.2,1247.2 L1172.0,1249.6 L1172.8,1252.0 L1173.6,1254.3 L1174.4,1256.7 L1175.2,1259.0 L1176.1,1261.4 L1177.0,1263.7 L1177.8,1266.1 L1178.7,1268.4 L1179.6,1270.8 L1180.5,1273.1 L1181.5,1275.4 L1182.4,1277.8 L1183.4,1280.1 L1184.3,1282.4 L1185.3,1284.7 L1186.3,1287.0 L1187.3,1289.3 L1188.3,1291.6 L1189.3,1293.9 L1190.4,1296.2 L1191.4,1298.5 L1192.5,1300.7 L1193.6,1303.0 L1194.7,1305.3 L1195.8,1307.5 L1196.9,1309.8 L1198.1,1312.0 L1199.3,1314.3 L1200.4,1316.5 L1201.7,1318.7 L1202.9,1320.8 L1204.2,1323.0 L1205.5,1325.1 L1206.8,1327.2 L1208.2,1329.3 L1209.6,1331.3 L1211.0,1333.3 L1212.5,1335.3 L1214.1,1337.2 L1215.6,1339.0 L1217.2,1340.9 L1218.9,1342.6 L1220.6,1344.4 L1222.4,1346.0 L1224.2,1347.6 L1226.1,1349.2 L1228.1,1350.7 L1230.0,1352.1 L1232.1,1353.5 L1234.2,1354.8 L1236.4,1356.0 L1238.6,1357.2 L1240.9,1358.4 L1243.1,1359.5 L1245.5,1360.5 L1247.8,1361.6 L1250.1,1362.6 L1252.4,1363.6 L1254.8,1364.6 L1257.1,1365.5 L1259.4,1366.5 L1261.8,1367.4 L1264.1,1368.3 L1266.5,1369.2 L1268.9,1370.0 L1271.2,1370.9 L1273.6,1371.7 L1276.0,1372.5 L1278.4,1373.3 L1280.8,1374.0 L1283.1,1374.8 L1285.5,1375.5 L1287.9,1376.2 L1290.3,1376.9 L1292.7,1377.6 L1295.1,1378.3 L1297.5,1379.0 L1300.0,1379.6 L1302.4,1380.2 L1304.8,1380.8 L1307.2,1381.4 L1309.6,1382.0 L1312.1,1382.5 L1314.5,1383.1 L1316.9,1383.6 L1319.4,1384.2 L1321.8,1384.7 L1324.3,1385.2 L1326.7,1385.6 L1329.1,1386.1 L1331.6,1386.6 L1334.1,1387.0 L1336.5,1387.5 L1339.0,1387.9 L1341.4,1388.3 L1343.9,1388.7 L1346.3,1389.1 L1348.8,1389.5 L1351.3,1389.8 L1353.7,1390.2 L1356.2,1390.6 L1358.7,1390.9 L1361.2,1391.2 L1363.6,1391.6 L1366.1,1391.9 L1368.6,1392.2 L1371.1,1392.5 L1373.5,1392.8 L1376.0,1393.1 L1378.5,1393.4 L1381.0,1393.6 L1383.5,1393.9 L1386.0,1394.2 L1388.4,1394.4 L1390.9,1394.7 L1393.4,1394.9 L1395.9,1395.1 L1398.4,1395.4 L1400.9,1395.6 L1403.4,1395.8 L1405.8,1396.0 L1408.3,1396.3 L1410.8,1396.5 L1413.3,1396.7 L1415.8,1396.9 L1418.3,1397.1 L1420.8,1397.2 L1423.3,1397.4 L1425.7,1397.6 L1428.2,1397.8 L1430.7,1398.0 L1433.2,1398.1 L1435.7,1398.3 L1438.2,1398.4 L1440.7,1398.6 L1443.2,1398.7 L1445.7,1398.9 L1448.2,1399.0 L1450.7,1399.2 L1453.2,1399.3 L1455.6,1399.4 L1458.1,1399.5 L1460.6,1399.7 L1463.1,1399.8 L1465.6,1399.9 L1468.1,1400.0 L1470.6,1400.1 L1473.1,1400.2 L1475.6,1400.3 L1478.1,1400.4 L1480.6,1400.5 L1483.1,1400.6 L1485.6,1400.7 L1488.1,1400.8 L1490.6,1400.8 L1493.1,1400.9 L1495.6,1401.0 L1498.1,1401.0 L1500.6,1401.1 L1503.1,1401.2 L1505.6,1401.2 L1508.1,1401.3 L1510.6,1401.3 L1513.1,1401.4 L1515.6,1401.4 L1518.1,1401.5 L1520.6,1401.5 L1523.0,1401.6 L1525.5,1401.6 L1528.0,1401.6 L1530.5,1401.7 L1533.0,1401.7 L1535.5,1401.7 L1538.0,1401.8 L1540.5,1401.8 L1543.0,1401.8 L1545.5,1401.8 L1548.0,1401.8 L1550.5,1401.9 L1553.1,1401.9 L1555.6,1401.9 L1558.1,1401.9 L1560.6,1401.9 L1563.1,1401.9 L1565.6,1401.9 L1568.1,1401.9 L1570.6,1401.9 L1573.1,1401.9 L1575.6,1401.9 L1578.1,1401.9 L1580.6,1401.9 L1583.1,1401.9 L1585.6,1401.9 L1588.1,1401.9 L1590.6,1401.8 L1593.1,1401.8 L1595.6,1401.8 L1598.1,1401.8 L1600.6,1401.8 L1603.1,1401.8 L1605.6,1401.8 L1608.1,1401.7 L1610.6,1401.7 L1613.1,1401.7 L1615.6,1401.7 L1618.1,1401.7 L1620.6,1401.6 L1623.1,1401.6 L1625.6,1401.6 L1628.1,1401.6 L1630.6,1401.5 L1633.1,1401.5 L1635.6,1401.5 L1638.1,1401.5 L1640.6,1401.4 L1643.1,1401.4 L1645.6,1401.4 L1648.1,1401.3 L1650.6,1401.3 L1653.1,1401.3 L1655.6,1401.3 L1658.1,1401.2 L1660.6,1401.2 L1663.1,1401.2 L1665.6,1401.2 L1668.1,1401.1 L1670.6,1401.1 L1673.1,1401.1 L1675.6,1401.0 L1678.1,1401.0 L1680.6,1401.0 L1683.1,1401.0 L1685.6,1401.0 L1688.1,1400.9 L1690.6,1400.9 L1693.1,1400.9 L1695.6,1400.9 L1698.1,1400.8 L1700.6,1400.8 L1703.2,1400.8 L1705.7,1400.8 L1708.1,1400.8 L1710.6,1400.8 L1713.1,1400.8 L1715.6,1400.7 L1718.1,1400.7 L1720.6,1400.7 L1723.1,1400.7 L1725.6,1400.7 L1728.1,1400.7 L1730.6,1400.7 L1733.1,1400.7 L1735.6,1400.7 L1738.1,1400.7 L1740.6,1400.7 L1743.1,1400.7 L1745.6,1400.7 L1748.1,1400.7 L1750.6,1400.7 L1753.1,1400.8 L1755.6,1400.8 L1758.1,1400.8 L1760.6,1400.8 L1763.1,1400.8 L1765.6,1400.8 L1768.1,1400.9 L1770.6,1400.9 L1773.1,1400.9 L1775.6,1401.0 L1778.1,1401.0 L1780.6,1401.0 L1783.1,1401.1 L1785.6,1401.1 L1788.0,1401.2 L1790.5,1401.2 L1793.0,1401.3 L1795.5,1401.3 L1798.0,1401.4 L1800.5,1401.4 L1803.0,1401.5" fill="none" stroke="#F14040" stroke-width="10.0" stroke-linejoin="round" stroke-linecap="butt"/>
<path d="M256.0,1358.0 L258.4,1357.5 L260.9,1356.9 L263.3,1356.4 L265.8,1355.9 L268.2,1355.4 L270.7,1355.0 L273.1,1354.5 L275.6,1354.0 L278.0,1353.6 L280.5,1353.1 L283.0,1352.7 L285.4,1352.3 L287.9,1351.8 L290.4,1351.4 L292.8,1351.0 L295.3,1350.6 L297.8,1350.2 L300.2,1349.8 L302.7,1349.4 L305.2,1349.0 L307.6,1348.6 L310.1,1348.3 L312.6,1347.9 L315.0,1347.5 L317.5,1347.1 L320.0,1346.8 L322.5,1346.4 L324.9,1346.0 L327.4,1345.7 L329.9,1345.3 L332.4,1344.9 L334.8,1344.6 L337.3,1344.2 L339.8,1343.8 L342.3,1343.5 L344.7,1343.1 L347.2,1342.7 L349.7,1342.3 L352.1,1341.9 L354.6,1341.6 L357.1,1341.2 L359.5,1340.8 L362.0,1340.4 L364.5,1340.0 L366.9,1339.5 L369.4,1339.1 L371.9,1338.7 L374.3,1338.3 L376.8,1337.8 L379.2,1337.4 L381.7,1336.9 L384.1,1336.5 L386.6,1336.0 L389.0,1335.5 L391.5,1335.0 L393.9,1334.5 L396.4,1334.0 L398.8,1333.5 L401.3,1333.0 L403.7,1332.4 L406.1,1331.8 L408.6,1331.3 L411.0,1330.7 L413.4,1330.1 L415.8,1329.5 L418.2,1328.9 L420.7,1328.2 L423.1,1327.6 L425.5,1326.9 L427.9,1326.2 L430.3,1325.5 L432.6,1324.8 L435.0,1324.0 L437.4,1323.3 L439.8,1322.5 L442.1,1321.7 L444.5,1320.9 L446.8,1320.1 L449.2,1319.2 L451.5,1318.3 L453.8,1317.5 L456.1,1316.5 L458.4,1315.6 L460.7,1314.6 L463.0,1313.7 L465.3,1312.6 L467.6,1311.6 L469.8,1310.6 L472.1,1309.5 L474.3,1308.4 L476.5,1307.3 L478.7,1306.1 L480.9,1304.9 L483.1,1303.7 L485.3,1302.5 L487.4,1301.2 L489.6,1300.0 L491.7,1298.7 L493.9,1297.4 L496.0,1296.0 L498.1,1294.7 L500.2,1293.3 L502.3,1291.9 L504.3,1290.5 L506.4,1289.1 L508.5,1287.6 L510.5,1286.2 L512.5,1284.7 L514.5,1283.2 L516.6,1281.7 L518.6,1280.2 L520.5,1278.6 L522.5,1277.1 L524.5,1275.5 L526.4,1273.9 L528.4,1272.4 L530.3,1270.8 L532.2,1269.2 L534.1,1267.5 L536.0,1265.9 L537.9,1264.3 L539.8,1262.6 L541.7,1260.9 L543.5,1259.3 L545.3,1257.6 L547.2,1255.9 L549.0,1254.2 L550.8,1252.4 L552.6,1250.7 L554.3,1248.9 L556.1,1247.2 L557.8,1245.4 L559.6,1243.6 L561.3,1241.8 L563.0,1240.0 L564.7,1238.2 L566.4,1236.3 L568.0,1234.5 L569.7,1232.6 L571.3,1230.7 L572.9,1228.8 L574.5,1226.9 L576.1,1225.0 L577.7,1223.0 L579.2,1221.1 L580.7,1219.1 L582.3,1217.2 L583.8,1215.2 L585.3,1213.2 L586.8,1211.2 L588.3,1209.2 L589.7,1207.1 L591.2,1205.1 L592.7,1203.1 L594.1,1201.1 L595.6,1199.0 L597.0,1197.0 L598.5,1195.0 L599.9,1192.9 L601.4,1190.9 L602.9,1188.8 L604.3,1186.8 L605.8,1184.8 L607.3,1182.8 L608.7,1180.7 L610.2,1178.7 L611.7,1176.7 L613.2,1174.7 L614.8,1172.7 L616.3,1170.8 L617.8,1168.8 L619.3,1166.8 L620.9,1164.8 L622.4,1162.8 L623.9,1160.9 L625.5,1158.9 L627.0,1156.9 L628.6,1155.0 L630.1,1153.0 L631.6,1151.0 L633.1,1149.1 L634.7,1147.1 L636.2,1145.1 L637.7,1143.1 L639.2,1141.1 L640.7,1139.1 L642.2,1137.1 L643.6,1135.1 L645.1,1133.1 L646.6,1131.1 L648.0,1129.0 L649.4,1127.0 L650.8,1124.9 L652.2,1122.9 L653.6,1120.8 L655.0,1118.7 L656.4,1116.6 L657.7,1114.6 L659.1,1112.5 L660.4,1110.4 L661.8,1108.3 L663.1,1106.1 L664.4,1104.0 L665.7,1101.9 L667.0,1099.8 L668.3,1097.6 L669.6,1095.5 L670.8,1093.3 L672.1,1091.2 L673.3,1089.0 L674.6,1086.8 L675.8,1084.7 L677.0,1082.5 L678.2,1080.3 L679.4,1078.1 L680.6,1075.9 L681.8,1073.7 L683.0,1071.5 L684.2,1069.3 L685.4,1067.1 L686.5,1064.9 L687.7,1062.7 L688.8,1060.5 L690.0,1058.2 L691.1,1056.0 L692.2,1053.8 L693.3,1051.5 L694.5,1049.3 L695.6,1047.0 L696.7,1044.8 L697.8,1042.5 L698.9,1040.3 L700.0,1038.0 L701.0,1035.8 L702.1,1033.5 L703.2,1031.3 L704.3,1029.0 L705.3,1026.7 L706.4,1024.5 L707.4,1022.2 L708.5,1019.9 L709.5,1017.6 L710.6,1015.4 L711.6,1013.1 L712.7,1010.8 L713.7,1008.5 L714.7,1006.3 L715.8,1004.0 L716.8,1001.7 L717.8,999.4 L718.8,997.1 L719.8,994.8 L720.8,992.5 L721.8,990.3 L722.8,988.0 L723.9,985.7 L724.9,983.4 L725.8,981.1 L726.8,978.8 L727.8,976.5 L728.8,974.2 L729.8,971.9 L730.8,969.6 L731.8,967.3 L732.8,965.0 L733.8,962.7 L734.7,960.5 L735.7,958.2 L736.7,955.9 L737.7,953.6 L738.6,951.3 L739.6,949.0 L740.6,946.7 L741.5,944.4 L742.5,942.1 L743.5,939.8 L744.5,937.5 L745.4,935.2 L746.4,932.9 L747.3,930.6 L748.3,928.3 L749.3,925.9 L750.2,923.6 L751.2,921.3 L752.2,919.0 L753.1,916.7 L754.1,914.4 L755.1,912.1 L756.0,909.8 L757.0,907.5 L758.0,905.2 L758.9,902.9 L759.9,900.6 L760.9,898.3 L761.8,896.0 L762.8,893.7 L763.8,891.4 L764.7,889.1 L765.7,886.8 L766.7,884.5 L767.6,882.2 L768.6,879.9 L769.6,877.6 L770.6,875.3 L771.6,873.0 L772.6,870.8 L773.6,868.5 L774.6,866.2 L775.6,863.9 L776.6,861.6 L777.6,859.3 L778.7,857.0 L779.8,854.8 L780.8,852.5 L781.9,850.2 L783.1,848.0 L784.2,845.7 L785.4,843.5 L786.6,841.2 L787.8,839.0 L789.0,836.7 L790.3,834.5 L791.6,832.3 L792.9,830.1 L794.3,827.9 L795.7,825.7 L797.1,823.6 L798.6,821.6 L800.2,819.6 L801.8,817.7 L803.5,815.9 L805.2,814.2 L807.1,812.7 L809.0,811.2 L810.9,809.9 L813.0,808.6 L815.1,807.5 L817.3,806.5 L819.5,805.5 L821.8,804.7 L824.1,803.9 L826.5,803.1 L828.9,802.5 L831.3,801.9 L833.8,801.3 L836.2,800.8 L838.7,800.3 L841.3,799.8 L843.8,799.3 L846.3,798.9 L848.8,798.4 L851.3,797.9 L853.8,797.5 L856.3,797.0 L858.7,796.4 L861.2,795.8 L863.6,795.2 L865.9,794.5 L868.3,793.7 L870.6,792.9 L872.8,792.0 L875.0,791.0 L877.1,789.8 L879.2,788.6 L881.2,787.3 L883.2,785.8 L885.1,784.3 L886.9,782.6 L888.6,780.8 L890.3,779.0 L892.0,777.1 L893.6,775.1 L895.2,773.1 L896.7,771.1 L898.2,769.0 L899.6,766.9 L901.0,764.8 L902.4,762.6 L903.8,760.5 L905.1,758.3 L906.4,756.2 L907.7,754.0 L908.9,751.8 L910.1,749.6 L911.3,747.4 L912.5,745.2 L913.7,743.0 L914.9,740.7 L916.0,738.5 L917.2,736.3 L918.3,734.0 L919.4,731.8 L920.6,729.6 L921.7,727.3 L922.8,725.1 L923.9,722.9 L925.0,720.6 L926.1,718.4 L927.2,716.1 L928.3,713.9 L929.3,711.7 L930.4,709.4 L931.5,707.2 L932.6,704.9 L933.6,702.7 L934.7,700.4 L935.7,698.2 L936.7,695.9 L937.8,693.6 L938.8,691.4 L939.8,689.1 L940.8,686.8 L941.8,684.6 L942.8,682.3 L943.8,680.0 L944.8,677.7 L945.7,675.4 L946.7,673.2 L947.7,670.9 L948.6,668.6 L949.5,666.3 L950.5,663.9 L951.4,661.6 L952.3,659.3 L953.2,657.0 L954.1,654.7 L955.0,652.3 L955.9,650.0 L956.8,647.6 L957.7,645.3 L958.7,643.0 L959.6,640.6 L960.6,638.2 L961.6,635.9 L962.6,633.5 L963.7,631.2 L964.7,628.8 L965.9,626.5 L967.0,624.1 L968.3,621.7 L969.5,619.4 L970.8,617.0 L972.2,614.7 L973.7,612.4 L975.1,610.1 L976.7,608.0 L978.3,606.0 L980.0,604.1 L981.8,602.3 L983.6,600.8 L985.5,599.5 L987.5,598.3 L989.5,597.5 L991.6,596.8 L993.7,596.4 L995.9,596.3 L998.1,596.3 L1000.3,596.6 L1002.5,597.0 L1004.7,597.7 L1006.8,598.6 L1008.9,599.7 L1011.0,600.9 L1013.0,602.4 L1015.0,603.9 L1016.8,605.6 L1018.7,607.4 L1020.5,609.2 L1022.2,611.1 L1023.9,613.0 L1025.5,614.9 L1027.0,616.9 L1028.5,618.9 L1030.0,620.9 L1031.4,623.0 L1032.7,625.1 L1034.0,627.2 L1035.3,629.4 L1036.5,631.6 L1037.7,633.8 L1038.9,636.0 L1040.0,638.3 L1041.0,640.5 L1042.1,642.8 L1043.1,645.1 L1044.0,647.5 L1045.0,649.8 L1045.9,652.2 L1046.8,654.5 L1047.6,656.9 L1048.5,659.3 L1049.3,661.7 L1050.1,664.1 L1050.9,666.5 L1051.6,668.9 L1052.4,671.3 L1053.1,673.7 L1053.8,676.1 L1054.5,678.5 L1055.2,680.9 L1055.9,683.3 L1056.5,685.7 L1057.2,688.2 L1057.8,690.6 L1058.5,693.0 L1059.1,695.4 L1059.7,697.8 L1060.3,700.3 L1060.9,702.7 L1061.4,705.1 L1062.0,707.5 L1062.6,710.0 L1063.1,712.4 L1063.7,714.8 L1064.2,717.2 L1064.7,719.7 L1065.2,722.1 L1065.7,724.5 L1066.2,727.0 L1066.7,729.4 L1067.2,731.8 L1067.7,734.3 L1068.2,736.7 L1068.7,739.2 L1069.1,741.6 L1069.6,744.0 L1070.0,746.5 L1070.5,748.9 L1071.0,751.4 L1071.4,753.8 L1071.8,756.3 L1072.3,758.7 L1072.7,761.2 L1073.1,763.6 L1073.6,766.1 L1074.0,768.5 L1074.4,771.0 L1074.8,773.4 L1075.2,775.9 L1075.7,778.4 L1076.1,780.8 L1076.5,783.3 L1076.9,785.7 L1077.3,788.2 L1077.6,790.7 L1078.0,793.1 L1078.4,795.6 L1078.8,798.0 L1079.2,800.5 L1079.6,803.0 L1079.9,805.4 L1080.3,807.9 L1080.7,810.4 L1081.0,812.8 L1081.4,815.3 L1081.8,817.8 L1082.1,820.3 L1082.5,822.7 L1082.8,825.2 L1083.2,827.7 L1083.5,830.2 L1083.9,832.6 L1084.2,835.1 L1084.6,837.6 L1084.9,840.1 L1085.2,842.5 L1085.6,845.0 L1085.9,847.5 L1086.2,850.0 L1086.6,852.4 L1086.9,854.9 L1087.2,857.4 L1087.6,859.9 L1087.9,862.4 L1088.2,864.8 L1088.5,867.3 L1088.9,869.8 L1089.2,872.3 L1089.5,874.8 L1089.8,877.3 L1090.1,879.7 L1090.4,882.2 L1090.7,884.7 L1091.1,887.2 L1091.4,889.7 L1091.7,892.2 L1092.0,894.6 L1092.3,897.1 L1092.6,899.6 L1092.9,902.1 L1093.2,904.6 L1093.5,907.1 L1093.8,909.6 L1094.1,912.0 L1094.4,914.5 L1094.8,917.0 L1095.1,919.5 L1095.4,922.0 L1095.7,924.5 L1096.0,927.0 L1096.3,929.5 L1096.6,931.9 L1096.9,934.4 L1097.2,936.9 L1097.5,939.4 L1097.8,941.9 L1098.1,944.4 L1098.4,946.9 L1098.7,949.3 L1099.0,951.8 L1099.3,954.3 L1099.7,956.8 L1100.0,959.3 L1100.3,961.8 L1100.6,964.3 L1100.9,966.7 L1101.2,969.2 L1101.5,971.7 L1101.8,974.2 L1102.2,976.7 L1102.5,979.2 L1102.8,981.6 L1103.1,984.1 L1103.4,986.6 L1103.8,989.1 L1104.1,991.6 L1104.4,994.0 L1104.7,996.5 L1105.1,999.0 L1105.4,1001.5 L1105.7,1004.0 L1106.1,1006.4 L1106.4,1008.9 L1106.7,1011.4 L1107.1,1013.9 L1107.4,1016.3 L1107.8,1018.8 L1108.1,1021.3 L1108.5,1023.8 L1108.8,1026.2 L1109.2,1028.7 L1109.5,1031.2 L1109.9,1033.7 L1110.2,1036.1 L1110.6,1038.6 L1111.0,1041.1 L1111.3,1043.6 L1111.7,1046.0 L1112.1,1048.5 L1112.5,1051.0 L1112.8,1053.4 L1113.2,1055.9 L1113.6,1058.4 L1114.0,1060.8 L1114.4,1063.3 L1114.7,1065.8 L1115.1,1068.2 L1115.5,1070.7 L1115.9,1073.2 L1116.3,1075.6 L1116.7,1078.1 L1117.1,1080.5 L1117.5,1083.0 L1118.0,1085.5 L1118.4,1087.9 L1118.8,1090.4 L1119.2,1092.8 L1119.6,1095.3 L1120.0,1097.8 L1120.5,1100.2 L1120.9,1102.7 L1121.3,1105.1 L1121.8,1107.6 L1122.2,1110.0 L1122.7,1112.5 L1123.1,1115.0 L1123.6,1117.4 L1124.0,1119.9 L1124.5,1122.3 L1124.9,1124.8 L1125.4,1127.2 L1125.8,1129.7 L1126.3,1132.1 L1126.8,1134.6 L1127.3,1137.0 L1127.7,1139.5 L1128.2,1141.9 L1128.7,1144.4 L1129.2,1146.8 L1129.7,1149.3 L1130.2,1151.7 L1130.7,1154.2 L1131.2,1156.6 L1131.7,1159.0 L1132.2,1161.5 L1132.7,1163.9 L1133.2,1166.4 L1133.7,1168.8 L1134.3,1171.3 L1134.8,1173.7 L1135.3,1176.2 L1135.9,1178.6 L1136.4,1181.0 L1137.0,1183.5 L1137.5,1185.9 L1138.1,1188.4 L1138.6,1190.8 L1139.2,1193.2 L1139.7,1195.7 L1140.3,1198.1 L1140.9,1200.5 L1141.4,1203.0 L1142.0,1205.4 L1142.6,1207.8 L1143.2,1210.3 L1143.8,1212.7 L1144.4,1215.1 L1145.0,1217.6 L1145.6,1220.0 L1146.3,1222.4 L1146.9,1224.8 L1147.6,1227.2 L1148.2,1229.7 L1148.9,1232.1 L1149.6,1234.5 L1150.2,1236.9 L1150.9,1239.3 L1151.7,1241.7 L1152.4,1244.1 L1153.1,1246.5 L1153.8,1248.8 L1154.6,1251.2 L1155.4,1253.6 L1156.2,1256.0 L1157.0,1258.3 L1157.8,1260.7 L1158.6,1263.0 L1159.4,1265.4 L1160.3,1267.7 L1161.2,1270.1 L1162.1,1272.4 L1163.0,1274.7 L1163.9,1277.0 L1164.9,1279.4 L1165.8,1281.7 L1166.8,1284.0 L1167.8,1286.2 L1168.8,1288.5 L1169.9,1290.8 L1170.9,1293.1 L1172.0,1295.3 L1173.1,1297.6 L1174.2,1299.8 L1175.4,1302.0 L1176.5,1304.3 L1177.7,1306.5 L1178.9,1308.7 L1180.2,1310.9 L1181.4,1313.0 L1182.7,1315.2 L1184.0,1317.3 L1185.4,1319.5 L1186.8,1321.6 L1188.2,1323.6 L1189.6,1325.7 L1191.1,1327.7 L1192.5,1329.7 L1194.1,1331.7 L1195.6,1333.6 L1197.2,1335.5 L1198.9,1337.4 L1200.5,1339.2 L1202.2,1341.0 L1204.0,1342.7 L1205.8,1344.4 L1207.6,1346.1 L1209.5,1347.7 L1211.4,1349.2 L1213.3,1350.8 L1215.3,1352.2 L1217.3,1353.6 L1219.4,1355.0 L1221.5,1356.3 L1223.6,1357.6 L1225.8,1358.8 L1228.0,1360.0 L1230.3,1361.1 L1232.5,1362.2 L1234.8,1363.3 L1237.1,1364.3 L1239.4,1365.3 L1241.7,1366.3 L1244.0,1367.3 L1246.4,1368.2 L1248.7,1369.1 L1251.1,1370.0 L1253.5,1370.9 L1255.8,1371.7 L1258.2,1372.5 L1260.6,1373.3 L1263.0,1374.1 L1265.4,1374.9 L1267.7,1375.6 L1270.1,1376.4 L1272.5,1377.1 L1274.9,1377.8 L1277.3,1378.4 L1279.8,1379.1 L1282.2,1379.7 L1284.6,1380.4 L1287.0,1381.0 L1289.4,1381.6 L1291.9,1382.1 L1294.3,1382.7 L1296.7,1383.3 L1299.1,1383.8 L1301.6,1384.3 L1304.0,1384.8 L1306.5,1385.3 L1308.9,1385.8 L1311.4,1386.2 L1313.8,1386.7 L1316.3,1387.1 L1318.7,1387.5 L1321.2,1387.9 L1323.7,1388.3 L1326.1,1388.7 L1328.6,1389.1 L1331.1,1389.4 L1333.5,1389.8 L1336.0,1390.1 L1338.5,1390.5 L1341.0,1390.8 L1343.4,1391.1 L1345.9,1391.4 L1348.4,1391.7 L1350.9,1392.0 L1353.4,1392.2 L1355.8,1392.5 L1358.3,1392.7 L1360.8,1393.0 L1363.3,1393.2 L1365.8,1393.5 L1368.3,1393.7 L1370.8,1393.9 L1373.3,1394.1 L1375.8,1394.4 L1378.3,1394.6 L1380.8,1394.8 L1383.2,1394.9 L1385.7,1395.1 L1388.2,1395.3 L1390.7,1395.5 L1393.2,1395.7 L1395.7,1395.9 L1398.2,1396.0 L1400.7,1396.2 L1403.2,1396.4 L1405.7,1396.5 L1408.2,1396.7 L1410.7,1396.8 L1413.2,1397.0 L1415.7,1397.1 L1418.2,1397.3 L1420.7,1397.4 L1423.2,1397.5 L1425.7,1397.7 L1428.2,1397.8 L1430.7,1397.9 L1433.2,1398.1 L1435.7,1398.2 L1438.2,1398.3 L1440.7,1398.4 L1443.2,1398.5 L1445.7,1398.6 L1448.2,1398.7 L1450.7,1398.8 L1453.2,1398.9 L1455.6,1399.0 L1458.1,1399.1 L1460.6,1399.2 L1463.1,1399.3 L1465.6,1399.4 L1468.1,1399.5 L1470.6,1399.6 L1473.1,1399.7 L1475.6,1399.7 L1478.1,1399.8 L1480.6,1399.9 L1483.1,1400.0 L1485.6,1400.0 L1488.1,1400.1 L1490.6,1400.2 L1493.1,1400.2 L1495.6,1400.3 L1498.1,1400.3 L1500.6,1400.4 L1503.1,1400.5 L1505.6,1400.5 L1508.1,1400.6 L1510.6,1400.6 L1513.1,1400.6 L1515.6,1400.7 L1518.1,1400.7 L1520.6,1400.8 L1523.1,1400.8 L1525.6,1400.8 L1528.1,1400.9 L1530.6,1400.9 L1533.1,1400.9 L1535.6,1401.0 L1538.1,1401.0 L1540.6,1401.0 L1543.1,1401.1 L1545.6,1401.1 L1548.1,1401.1 L1550.6,1401.1 L1553.1,1401.1 L1555.6,1401.2 L1558.1,1401.2 L1560.6,1401.2 L1563.1,1401.2 L1565.6,1401.2 L1568.1,1401.2 L1570.6,1401.2 L1573.1,1401.3 L1575.6,1401.3 L1578.1,1401.3 L1580.6,1401.3 L1583.1,1401.3 L1585.6,1401.3 L1588.1,1401.3 L1590.6,1401.3 L1593.1,1401.3 L1595.6,1401.3 L1598.1,1401.3 L1600.6,1401.3 L1603.1,1401.3 L1605.6,1401.3 L1608.1,1401.3 L1610.6,1401.3 L1613.1,1401.3 L1615.6,1401.3 L1618.1,1401.2 L1620.6,1401.2 L1623.1,1401.2 L1625.6,1401.2 L1628.0,1401.2 L1630.5,1401.2 L1633.0,1401.2 L1635.5,1401.2 L1638.0,1401.2 L1640.5,1401.2 L1643.0,1401.2 L1645.5,1401.2 L1648.0,1401.1 L1650.5,1401.1 L1653.0,1401.1 L1655.5,1401.1 L1658.0,1401.1 L1660.5,1401.1 L1663.0,1401.1 L1665.5,1401.1 L1668.0,1401.1 L1670.5,1401.0 L1673.0,1401.0 L1675.5,1401.0 L1678.0,1401.0 L1680.5,1401.0 L1683.0,1401.0 L1685.5,1401.0 L1688.0,1401.0 L1690.5,1401.0 L1693.0,1401.0 L1695.5,1400.9 L1698.0,1400.9 L1700.5,1400.9 L1703.0,1400.9 L1705.5,1400.9 L1708.0,1400.9 L1710.5,1400.9 L1713.0,1400.9 L1715.5,1400.9 L1718.0,1400.9 L1720.5,1400.9 L1723.0,1400.9 L1725.5,1400.9 L1728.0,1400.9 L1730.5,1400.9 L1733.0,1400.9 L1735.5,1400.9 L1738.0,1400.9 L1740.5,1400.9 L1743.0,1400.9 L1745.5,1400.9 L1748.0,1400.9 L1750.5,1401.0 L1753.0,1401.0 L1755.5,1401.0 L1758.0,1401.0 L1760.5,1401.0 L1763.0,1401.0 L1765.5,1401.0 L1768.0,1401.1 L1770.5,1401.1 L1773.0,1401.1 L1775.5,1401.1 L1778.0,1401.2 L1780.5,1401.2 L1783.0,1401.2 L1785.5,1401.2 L1788.0,1401.3 L1790.5,1401.3 L1793.0,1401.3 L1795.5,1401.4 L1798.0,1401.4 L1800.5,1401.5 L1803.0,1401.5" fill="none" stroke="#1A6FDF" stroke-width="10.0" stroke-linejoin="round" stroke-linecap="butt"/>
<path d="M256.0,1358.3 L258.4,1358.0 L260.9,1357.8 L263.3,1357.5 L265.8,1357.3 L268.2,1357.0 L270.7,1356.8 L273.2,1356.5 L275.6,1356.3 L278.1,1356.1 L280.6,1355.8 L283.1,1355.6 L285.5,1355.4 L288.0,1355.1 L290.5,1354.9 L293.0,1354.7 L295.5,1354.5 L298.0,1354.2 L300.5,1354.0 L303.0,1353.8 L305.5,1353.5 L308.0,1353.3 L310.4,1353.1 L312.9,1352.8 L315.4,1352.6 L318.0,1352.4 L320.5,1352.1 L323.0,1351.9 L325.5,1351.6 L328.0,1351.4 L330.5,1351.1 L333.0,1350.8 L335.5,1350.6 L338.0,1350.3 L340.5,1350.0 L343.0,1349.7 L345.5,1349.4 L348.0,1349.1 L350.5,1348.8 L353.0,1348.5 L355.5,1348.1 L358.0,1347.8 L360.4,1347.5 L362.9,1347.1 L365.4,1346.8 L367.9,1346.4 L370.4,1346.0 L372.9,1345.6 L375.3,1345.2 L377.8,1344.8 L380.3,1344.4 L382.8,1343.9 L385.2,1343.5 L387.7,1343.0 L390.1,1342.6 L392.6,1342.1 L395.0,1341.6 L397.5,1341.1 L399.9,1340.6 L402.4,1340.0 L404.8,1339.5 L407.2,1338.9 L409.7,1338.3 L412.1,1337.7 L414.5,1337.1 L416.9,1336.5 L419.3,1335.8 L421.7,1335.2 L424.1,1334.5 L426.5,1333.8 L428.9,1333.1 L431.2,1332.3 L433.6,1331.6 L436.0,1330.8 L438.3,1330.0 L440.7,1329.2 L443.0,1328.4 L445.3,1327.5 L447.7,1326.7 L450.0,1325.8 L452.3,1324.9 L454.6,1324.0 L456.9,1323.0 L459.2,1322.1 L461.5,1321.1 L463.8,1320.1 L466.1,1319.1 L468.3,1318.1 L470.6,1317.0 L472.9,1316.0 L475.1,1314.9 L477.4,1313.9 L479.6,1312.8 L481.8,1311.7 L484.1,1310.6 L486.3,1309.4 L488.5,1308.3 L490.7,1307.1 L492.9,1306.0 L495.2,1304.8 L497.4,1303.6 L499.6,1302.4 L501.7,1301.2 L503.9,1300.0 L506.1,1298.8 L508.3,1297.6 L510.5,1296.3 L512.6,1295.1 L514.8,1293.8 L517.0,1292.6 L519.1,1291.3 L521.3,1290.1 L523.4,1288.8 L525.5,1287.5 L527.7,1286.2 L529.8,1284.9 L531.9,1283.6 L534.1,1282.3 L536.2,1280.9 L538.3,1279.6 L540.4,1278.3 L542.5,1276.9 L544.6,1275.6 L546.7,1274.2 L548.8,1272.9 L550.9,1271.5 L553.0,1270.1 L555.1,1268.8 L557.2,1267.4 L559.3,1266.0 L561.3,1264.6 L563.4,1263.2 L565.5,1261.8 L567.5,1260.3 L569.6,1258.9 L571.6,1257.5 L573.7,1256.1 L575.7,1254.6 L577.8,1253.2 L579.8,1251.7 L581.8,1250.3 L583.9,1248.8 L585.9,1247.3 L587.9,1245.9 L589.9,1244.4 L591.9,1242.9 L593.9,1241.4 L595.9,1239.9 L597.9,1238.4 L599.9,1236.9 L601.9,1235.4 L603.9,1233.9 L605.9,1232.4 L607.9,1230.9 L609.9,1229.4 L611.9,1227.8 L613.8,1226.3 L615.8,1224.8 L617.8,1223.2 L619.7,1221.7 L621.7,1220.1 L623.7,1218.6 L625.6,1217.0 L627.6,1215.5 L629.5,1213.9 L631.4,1212.3 L633.4,1210.8 L635.3,1209.2 L637.3,1207.6 L639.2,1206.0 L641.1,1204.5 L643.0,1202.9 L645.0,1201.3 L646.9,1199.7 L648.8,1198.1 L650.7,1196.5 L652.6,1194.9 L654.5,1193.3 L656.4,1191.7 L658.3,1190.1 L660.2,1188.5 L662.1,1186.9 L664.0,1185.2 L665.9,1183.6 L667.8,1182.0 L669.6,1180.4 L671.5,1178.8 L673.4,1177.1 L675.3,1175.5 L677.1,1173.9 L679.0,1172.2 L680.9,1170.6 L682.8,1169.0 L684.6,1167.3 L686.5,1165.7 L688.4,1164.1 L690.2,1162.4 L692.1,1160.8 L694.0,1159.1 L695.9,1157.5 L697.7,1155.9 L699.6,1154.2 L701.5,1152.6 L703.3,1150.9 L705.2,1149.3 L707.1,1147.6 L709.0,1146.0 L710.8,1144.3 L712.7,1142.7 L714.6,1141.0 L716.5,1139.4 L718.3,1137.7 L720.2,1136.1 L722.1,1134.5 L724.0,1132.8 L725.9,1131.2 L727.8,1129.5 L729.7,1127.9 L731.6,1126.3 L733.5,1124.7 L735.4,1123.1 L737.4,1121.5 L739.3,1119.9 L741.2,1118.3 L743.2,1116.7 L745.1,1115.2 L747.1,1113.6 L749.1,1112.1 L751.1,1110.6 L753.1,1109.1 L755.1,1107.6 L757.1,1106.2 L759.1,1104.8 L761.2,1103.4 L763.2,1102.0 L765.3,1100.6 L767.4,1099.3 L769.5,1098.0 L771.6,1096.7 L773.7,1095.4 L775.9,1094.2 L778.0,1093.0 L780.2,1091.8 L782.4,1090.7 L784.6,1089.6 L786.9,1088.5 L789.1,1087.5 L791.4,1086.5 L793.7,1085.5 L796.0,1084.6 L798.3,1083.7 L800.7,1082.9 L803.1,1082.1 L805.5,1081.3 L807.9,1080.5 L810.3,1079.8 L812.8,1079.1 L815.2,1078.5 L817.7,1077.8 L820.1,1077.2 L822.6,1076.6 L825.1,1075.9 L827.5,1075.3 L830.0,1074.7 L832.5,1074.1 L834.9,1073.5 L837.4,1072.9 L839.8,1072.2 L842.2,1071.6 L844.7,1070.9 L847.1,1070.2 L849.4,1069.5 L851.8,1068.7 L854.1,1068.0 L856.5,1067.2 L858.8,1066.4 L861.1,1065.5 L863.4,1064.7 L865.7,1063.8 L868.0,1062.9 L870.2,1062.0 L872.5,1061.0 L874.7,1060.1 L877.0,1059.1 L879.2,1058.1 L881.5,1057.1 L883.7,1056.0 L885.9,1055.0 L888.2,1053.9 L890.4,1052.8 L892.7,1051.7 L894.9,1050.6 L897.1,1049.4 L899.4,1048.2 L901.6,1047.0 L903.9,1045.9 L906.1,1044.7 L908.4,1043.5 L910.7,1042.3 L912.9,1041.1 L915.2,1039.9 L917.5,1038.8 L919.8,1037.6 L922.1,1036.5 L924.5,1035.5 L926.8,1034.4 L929.1,1033.5 L931.5,1032.5 L933.8,1031.6 L936.2,1030.8 L938.6,1030.0 L941.0,1029.3 L943.4,1028.7 L945.9,1028.1 L948.3,1027.6 L950.8,1027.2 L953.2,1026.9 L955.7,1026.6 L958.2,1026.5 L960.7,1026.5 L963.1,1026.7 L965.6,1026.9 L968.0,1027.3 L970.4,1027.8 L972.8,1028.4 L975.1,1029.1 L977.4,1030.0 L979.6,1030.9 L981.8,1032.0 L983.9,1033.1 L985.9,1034.4 L987.9,1035.8 L989.8,1037.2 L991.6,1038.8 L993.3,1040.4 L995.0,1042.1 L996.6,1043.9 L998.2,1045.8 L999.7,1047.7 L1001.1,1049.7 L1002.5,1051.8 L1003.9,1053.9 L1005.2,1056.0 L1006.4,1058.2 L1007.7,1060.5 L1008.9,1062.7 L1010.0,1065.0 L1011.2,1067.4 L1012.3,1069.7 L1013.4,1072.0 L1014.5,1074.4 L1015.6,1076.8 L1016.7,1079.1 L1017.7,1081.5 L1018.8,1083.8 L1019.8,1086.2 L1020.9,1088.5 L1022.0,1090.8 L1023.0,1093.2 L1024.0,1095.5 L1025.1,1097.8 L1026.1,1100.1 L1027.2,1102.4 L1028.2,1104.7 L1029.2,1107.0 L1030.3,1109.3 L1031.3,1111.6 L1032.3,1113.9 L1033.3,1116.2 L1034.3,1118.5 L1035.3,1120.7 L1036.3,1123.0 L1037.3,1125.3 L1038.3,1127.5 L1039.3,1129.8 L1040.3,1132.1 L1041.3,1134.4 L1042.3,1136.6 L1043.3,1138.9 L1044.3,1141.1 L1045.3,1143.4 L1046.3,1145.7 L1047.2,1147.9 L1048.2,1150.2 L1049.2,1152.5 L1050.1,1154.7 L1051.1,1157.0 L1052.1,1159.3 L1053.0,1161.5 L1054.0,1163.8 L1054.9,1166.1 L1055.9,1168.4 L1056.8,1170.6 L1057.8,1172.9 L1058.7,1175.2 L1059.7,1177.5 L1060.6,1179.8 L1061.6,1182.1 L1062.5,1184.4 L1063.4,1186.7 L1064.4,1189.0 L1065.3,1191.3 L1066.2,1193.6 L1067.2,1195.9 L1068.1,1198.2 L1069.0,1200.5 L1070.0,1202.9 L1070.9,1205.2 L1071.8,1207.5 L1072.8,1209.8 L1073.7,1212.1 L1074.6,1214.5 L1075.6,1216.8 L1076.5,1219.1 L1077.5,1221.4 L1078.4,1223.8 L1079.4,1226.1 L1080.3,1228.4 L1081.3,1230.7 L1082.3,1233.0 L1083.2,1235.4 L1084.2,1237.7 L1085.2,1240.0 L1086.2,1242.3 L1087.2,1244.6 L1088.2,1246.9 L1089.2,1249.2 L1090.2,1251.5 L1091.2,1253.8 L1092.3,1256.1 L1093.3,1258.4 L1094.4,1260.6 L1095.4,1262.9 L1096.5,1265.2 L1097.6,1267.5 L1098.6,1269.7 L1099.7,1272.0 L1100.8,1274.2 L1102.0,1276.5 L1103.1,1278.7 L1104.2,1280.9 L1105.4,1283.1 L1106.5,1285.3 L1107.7,1287.6 L1108.9,1289.7 L1110.1,1291.9 L1111.3,1294.1 L1112.6,1296.3 L1113.8,1298.4 L1115.1,1300.6 L1116.3,1302.7 L1117.6,1304.9 L1118.9,1307.0 L1120.3,1309.1 L1121.6,1311.2 L1123.0,1313.3 L1124.4,1315.3 L1125.8,1317.4 L1127.2,1319.4 L1128.7,1321.4 L1130.2,1323.4 L1131.7,1325.4 L1133.3,1327.3 L1134.9,1329.2 L1136.5,1331.1 L1138.1,1333.0 L1139.8,1334.9 L1141.5,1336.7 L1143.3,1338.5 L1145.1,1340.3 L1146.9,1342.0 L1148.7,1343.7 L1150.6,1345.4 L1152.5,1347.0 L1154.4,1348.6 L1156.4,1350.2 L1158.4,1351.7 L1160.4,1353.1 L1162.5,1354.6 L1164.5,1355.9 L1166.6,1357.3 L1168.8,1358.5 L1170.9,1359.8 L1173.1,1361.0 L1175.2,1362.2 L1177.5,1363.3 L1179.7,1364.4 L1181.9,1365.4 L1184.2,1366.5 L1186.5,1367.4 L1188.8,1368.4 L1191.1,1369.3 L1193.4,1370.2 L1195.8,1371.1 L1198.1,1371.9 L1200.5,1372.7 L1202.9,1373.5 L1205.2,1374.2 L1207.6,1374.9 L1210.1,1375.6 L1212.5,1376.3 L1214.9,1376.9 L1217.3,1377.6 L1219.8,1378.2 L1222.2,1378.7 L1224.7,1379.3 L1227.1,1379.9 L1229.6,1380.4 L1232.0,1380.9 L1234.5,1381.4 L1237.0,1381.9 L1239.4,1382.3 L1241.9,1382.8 L1244.3,1383.2 L1246.8,1383.6 L1249.3,1384.1 L1251.7,1384.5 L1254.2,1384.8 L1256.7,1385.2 L1259.2,1385.6 L1261.6,1385.9 L1264.1,1386.3 L1266.6,1386.6 L1269.1,1386.9 L1271.5,1387.2 L1274.0,1387.5 L1276.5,1387.8 L1279.0,1388.1 L1281.5,1388.3 L1283.9,1388.6 L1286.4,1388.9 L1288.9,1389.1 L1291.4,1389.3 L1293.9,1389.6 L1296.4,1389.8 L1298.8,1390.0 L1301.3,1390.3 L1303.8,1390.5 L1306.3,1390.7 L1308.8,1390.9 L1311.3,1391.1 L1313.8,1391.3 L1316.2,1391.5 L1318.7,1391.7 L1321.2,1391.9 L1323.7,1392.0 L1326.2,1392.2 L1328.7,1392.4 L1331.2,1392.6 L1333.7,1392.8 L1336.2,1392.9 L1338.6,1393.1 L1341.1,1393.3 L1343.6,1393.4 L1346.1,1393.6 L1348.6,1393.8 L1351.1,1393.9 L1353.6,1394.1 L1356.1,1394.2 L1358.6,1394.4 L1361.1,1394.6 L1363.5,1394.7 L1366.0,1394.9 L1368.5,1395.0 L1371.0,1395.1 L1373.5,1395.3 L1376.0,1395.4 L1378.5,1395.6 L1381.0,1395.7 L1383.5,1395.8 L1386.0,1396.0 L1388.5,1396.1 L1391.0,1396.2 L1393.5,1396.3 L1395.9,1396.5 L1398.4,1396.6 L1400.9,1396.7 L1403.4,1396.8 L1405.9,1396.9 L1408.4,1397.0 L1410.9,1397.1 L1413.4,1397.3 L1415.9,1397.4 L1418.4,1397.5 L1420.9,1397.6 L1423.4,1397.7 L1425.9,1397.8 L1428.4,1397.9 L1430.9,1398.0 L1433.4,1398.1 L1435.9,1398.2 L1438.3,1398.2 L1440.8,1398.3 L1443.3,1398.4 L1445.8,1398.5 L1448.3,1398.6 L1450.8,1398.7 L1453.3,1398.8 L1455.8,1398.8 L1458.3,1398.9 L1460.8,1399.0 L1463.3,1399.1 L1465.8,1399.1 L1468.3,1399.2 L1470.8,1399.3 L1473.3,1399.4 L1475.8,1399.4 L1478.3,1399.5 L1480.8,1399.5 L1483.3,1399.6 L1485.8,1399.7 L1488.3,1399.7 L1490.8,1399.8 L1493.3,1399.8 L1495.8,1399.9 L1498.3,1400.0 L1500.8,1400.0 L1503.3,1400.1 L1505.8,1400.1 L1508.3,1400.2 L1510.7,1400.2 L1513.2,1400.3 L1515.7,1400.3 L1518.2,1400.3 L1520.7,1400.4 L1523.2,1400.4 L1525.7,1400.5 L1528.2,1400.5 L1530.7,1400.6 L1533.2,1400.6 L1535.7,1400.6 L1538.2,1400.7 L1540.7,1400.7 L1543.2,1400.7 L1545.7,1400.8 L1548.2,1400.8 L1550.7,1400.8 L1553.2,1400.9 L1555.7,1400.9 L1558.2,1400.9 L1560.7,1400.9 L1563.2,1401.0 L1565.7,1401.0 L1568.2,1401.0 L1570.7,1401.0 L1573.2,1401.1 L1575.7,1401.1 L1578.2,1401.1 L1580.7,1401.1 L1583.2,1401.1 L1585.7,1401.1 L1588.2,1401.2 L1590.7,1401.2 L1593.2,1401.2 L1595.7,1401.2 L1598.2,1401.2 L1600.7,1401.2 L1603.2,1401.3 L1605.7,1401.3 L1608.2,1401.3 L1610.7,1401.3 L1613.2,1401.3 L1615.7,1401.3 L1618.2,1401.3 L1620.7,1401.3 L1623.2,1401.3 L1625.7,1401.3 L1628.2,1401.3 L1630.7,1401.3 L1633.2,1401.4 L1635.7,1401.4 L1638.2,1401.4 L1640.7,1401.4 L1643.2,1401.4 L1645.7,1401.4 L1648.2,1401.4 L1650.7,1401.4 L1653.2,1401.4 L1655.7,1401.4 L1658.2,1401.4 L1660.7,1401.4 L1663.2,1401.4 L1665.7,1401.4 L1668.2,1401.4 L1670.7,1401.4 L1673.2,1401.4 L1675.7,1401.4 L1678.2,1401.4 L1680.7,1401.4 L1683.2,1401.4 L1685.7,1401.4 L1688.2,1401.4 L1690.7,1401.4 L1693.2,1401.4 L1695.7,1401.4 L1698.2,1401.4 L1700.6,1401.4 L1703.1,1401.4 L1705.6,1401.4 L1708.1,1401.4 L1710.6,1401.4 L1713.1,1401.4 L1715.6,1401.4 L1718.1,1401.4 L1720.6,1401.4 L1723.1,1401.4 L1725.6,1401.4 L1728.1,1401.4 L1730.6,1401.4 L1733.1,1401.4 L1735.6,1401.4 L1738.1,1401.4 L1740.6,1401.4 L1743.1,1401.4 L1745.6,1401.4 L1748.1,1401.4 L1750.6,1401.4 L1753.1,1401.4 L1755.6,1401.4 L1758.1,1401.4 L1760.6,1401.4 L1763.1,1401.4 L1765.6,1401.4 L1768.1,1401.4 L1770.6,1401.4 L1773.1,1401.4 L1775.6,1401.4 L1778.1,1401.4 L1780.5,1401.4 L1783.0,1401.4 L1785.5,1401.4 L1788.0,1401.4 L1790.5,1401.5 L1793.0,1401.5 L1795.5,1401.5 L1798.0,1401.5 L1800.5,1401.5 L1803.0,1401.5" fill="none" stroke="#37AD6B" stroke-width="10.0" stroke-linejoin="round" stroke-linecap="butt"/>
<path d="M256.0,1359.0 L258.5,1359.1 L261.0,1359.1 L263.5,1359.2 L266.0,1359.2 L268.5,1359.3 L271.0,1359.3 L273.6,1359.3 L276.1,1359.3 L278.6,1359.3 L281.1,1359.3 L283.6,1359.3 L286.1,1359.3 L288.6,1359.3 L291.1,1359.2 L293.6,1359.2 L296.1,1359.2 L298.6,1359.1 L301.1,1359.0 L303.6,1359.0 L306.1,1358.9 L308.6,1358.8 L311.1,1358.7 L313.6,1358.6 L316.1,1358.5 L318.6,1358.3 L321.1,1358.2 L323.6,1358.1 L326.1,1357.9 L328.5,1357.8 L331.0,1357.6 L333.5,1357.4 L336.0,1357.3 L338.5,1357.1 L341.0,1356.9 L343.5,1356.7 L346.0,1356.5 L348.5,1356.3 L350.9,1356.0 L353.4,1355.8 L355.9,1355.6 L358.4,1355.3 L360.9,1355.1 L363.4,1354.8 L365.8,1354.5 L368.3,1354.3 L370.8,1354.0 L373.3,1353.7 L375.7,1353.4 L378.2,1353.1 L380.7,1352.8 L383.2,1352.4 L385.6,1352.1 L388.1,1351.8 L390.6,1351.4 L393.0,1351.1 L395.5,1350.7 L398.0,1350.3 L400.4,1350.0 L402.9,1349.6 L405.3,1349.2 L407.8,1348.8 L410.3,1348.4 L412.7,1347.9 L415.2,1347.5 L417.6,1347.1 L420.1,1346.7 L422.5,1346.2 L425.0,1345.8 L427.4,1345.3 L429.9,1344.8 L432.3,1344.4 L434.8,1343.9 L437.2,1343.4 L439.7,1342.9 L442.1,1342.4 L444.5,1341.9 L447.0,1341.3 L449.4,1340.8 L451.9,1340.3 L454.3,1339.7 L456.7,1339.2 L459.1,1338.6 L461.6,1338.1 L464.0,1337.5 L466.4,1336.9 L468.9,1336.3 L471.3,1335.7 L473.7,1335.1 L476.1,1334.5 L478.5,1333.9 L480.9,1333.3 L483.4,1332.6 L485.8,1332.0 L488.2,1331.4 L490.6,1330.7 L493.0,1330.0 L495.4,1329.4 L497.8,1328.7 L500.2,1328.0 L502.6,1327.3 L505.0,1326.6 L507.4,1325.9 L509.8,1325.2 L512.2,1324.5 L514.6,1323.8 L517.0,1323.1 L519.3,1322.3 L521.7,1321.6 L524.1,1320.8 L526.5,1320.1 L528.9,1319.4 L531.3,1318.6 L533.7,1317.8 L536.0,1317.1 L538.4,1316.3 L540.8,1315.6 L543.2,1314.8 L545.6,1314.0 L547.9,1313.3 L550.3,1312.5 L552.7,1311.7 L555.1,1311.0 L557.4,1310.2 L559.8,1309.4 L562.2,1308.7 L564.6,1307.9 L567.0,1307.1 L569.3,1306.4 L571.7,1305.6 L574.1,1304.8 L576.5,1304.1 L578.9,1303.3 L581.3,1302.6 L583.6,1301.8 L586.0,1301.1 L588.4,1300.3 L590.8,1299.6 L593.2,1298.9 L595.6,1298.1 L598.0,1297.4 L600.4,1296.7 L602.7,1296.0 L605.1,1295.3 L607.5,1294.6 L609.9,1293.9 L612.3,1293.2 L614.7,1292.5 L617.1,1291.9 L619.5,1291.2 L621.9,1290.5 L624.4,1289.9 L626.8,1289.2 L629.2,1288.6 L631.6,1288.0 L634.0,1287.4 L636.4,1286.8 L638.9,1286.2 L641.3,1285.6 L643.7,1285.0 L646.1,1284.5 L648.6,1283.9 L651.0,1283.4 L653.4,1282.8 L655.9,1282.3 L658.3,1281.8 L660.8,1281.2 L663.2,1280.7 L665.6,1280.2 L668.1,1279.8 L670.5,1279.3 L673.0,1278.8 L675.4,1278.3 L677.9,1277.9 L680.3,1277.5 L682.8,1277.0 L685.3,1276.6 L687.7,1276.2 L690.2,1275.8 L692.6,1275.4 L695.1,1275.0 L697.6,1274.6 L700.0,1274.2 L702.5,1273.9 L705.0,1273.5 L707.4,1273.2 L709.9,1272.8 L712.4,1272.5 L714.9,1272.2 L717.3,1271.9 L719.8,1271.6 L722.3,1271.3 L724.8,1271.0 L727.2,1270.7 L729.7,1270.5 L732.2,1270.2 L734.7,1269.9 L737.2,1269.7 L739.7,1269.5 L742.1,1269.3 L744.6,1269.0 L747.1,1268.8 L749.6,1268.6 L752.1,1268.5 L754.6,1268.3 L757.1,1268.1 L759.6,1267.9 L762.0,1267.8 L764.5,1267.6 L767.0,1267.5 L769.5,1267.4 L772.0,1267.3 L774.5,1267.2 L777.0,1267.1 L779.5,1267.0 L782.0,1266.9 L784.5,1266.8 L787.0,1266.8 L789.5,1266.7 L792.0,1266.7 L794.5,1266.6 L797.0,1266.6 L799.5,1266.6 L802.0,1266.6 L804.5,1266.6 L807.0,1266.6 L809.5,1266.6 L812.0,1266.6 L814.5,1266.6 L817.0,1266.7 L819.5,1266.7 L821.9,1266.8 L824.4,1266.8 L826.9,1266.9 L829.4,1267.0 L831.9,1267.1 L834.4,1267.2 L836.9,1267.3 L839.4,1267.4 L841.9,1267.6 L844.4,1267.7 L846.9,1267.8 L849.4,1268.0 L851.9,1268.2 L854.4,1268.3 L856.9,1268.5 L859.4,1268.7 L861.9,1268.9 L864.4,1269.1 L866.9,1269.3 L869.4,1269.5 L871.8,1269.8 L874.3,1270.0 L876.8,1270.3 L879.3,1270.5 L881.8,1270.8 L884.3,1271.1 L886.8,1271.4 L889.2,1271.6 L891.7,1271.9 L894.2,1272.3 L896.7,1272.6 L899.2,1272.9 L901.7,1273.2 L904.1,1273.6 L906.6,1273.9 L909.1,1274.3 L911.6,1274.7 L914.0,1275.1 L916.5,1275.4 L919.0,1275.8 L921.5,1276.2 L923.9,1276.7 L926.4,1277.1 L928.9,1277.5 L931.3,1278.0 L933.8,1278.4 L936.2,1278.9 L938.7,1279.4 L941.1,1279.9 L943.6,1280.4 L946.0,1280.9 L948.5,1281.4 L950.9,1282.0 L953.3,1282.5 L955.8,1283.1 L958.2,1283.7 L960.6,1284.3 L963.0,1284.9 L965.4,1285.6 L967.8,1286.2 L970.2,1286.9 L972.6,1287.6 L975.0,1288.3 L977.4,1289.0 L979.7,1289.8 L982.1,1290.6 L984.5,1291.4 L986.8,1292.2 L989.1,1293.0 L991.5,1293.9 L993.8,1294.8 L996.1,1295.8 L998.3,1296.8 L1000.6,1297.8 L1002.8,1298.8 L1005.1,1299.9 L1007.3,1301.0 L1009.5,1302.2 L1011.7,1303.4 L1013.8,1304.7 L1016.0,1306.0 L1018.1,1307.3 L1020.3,1308.6 L1022.4,1310.0 L1024.5,1311.4 L1026.6,1312.8 L1028.7,1314.2 L1030.7,1315.7 L1032.8,1317.1 L1034.9,1318.5 L1037.0,1320.0 L1039.1,1321.4 L1041.2,1322.8 L1043.3,1324.2 L1045.4,1325.6 L1047.5,1327.0 L1049.6,1328.4 L1051.8,1329.7 L1053.9,1331.0 L1056.0,1332.3 L1058.2,1333.5 L1060.4,1334.8 L1062.6,1336.0 L1064.7,1337.2 L1066.9,1338.4 L1069.1,1339.6 L1071.3,1340.7 L1073.6,1341.9 L1075.8,1343.0 L1078.0,1344.1 L1080.3,1345.2 L1082.5,1346.2 L1084.8,1347.2 L1087.0,1348.3 L1089.3,1349.3 L1091.6,1350.3 L1093.9,1351.2 L1096.2,1352.2 L1098.5,1353.1 L1100.8,1354.0 L1103.1,1354.9 L1105.4,1355.8 L1107.7,1356.7 L1110.0,1357.6 L1112.4,1358.4 L1114.7,1359.2 L1117.1,1360.0 L1119.4,1360.8 L1121.8,1361.6 L1124.1,1362.4 L1126.5,1363.1 L1128.9,1363.9 L1131.3,1364.6 L1133.6,1365.3 L1136.0,1366.0 L1138.4,1366.7 L1140.8,1367.4 L1143.2,1368.0 L1145.6,1368.7 L1148.0,1369.3 L1150.4,1369.9 L1152.9,1370.5 L1155.3,1371.1 L1157.7,1371.7 L1160.1,1372.3 L1162.6,1372.8 L1165.0,1373.4 L1167.4,1373.9 L1169.9,1374.5 L1172.3,1375.0 L1174.8,1375.5 L1177.2,1376.0 L1179.7,1376.5 L1182.1,1376.9 L1184.6,1377.4 L1187.0,1377.9 L1189.5,1378.3 L1191.9,1378.8 L1194.4,1379.2 L1196.9,1379.6 L1199.3,1380.0 L1201.8,1380.4 L1204.3,1380.8 L1206.7,1381.2 L1209.2,1381.6 L1211.7,1382.0 L1214.2,1382.4 L1216.6,1382.7 L1219.1,1383.1 L1221.6,1383.4 L1224.1,1383.8 L1226.5,1384.1 L1229.0,1384.4 L1231.5,1384.8 L1234.0,1385.1 L1236.4,1385.4 L1238.9,1385.7 L1241.4,1386.0 L1243.9,1386.3 L1246.4,1386.6 L1248.8,1386.8 L1251.3,1387.1 L1253.8,1387.4 L1256.3,1387.6 L1258.8,1387.9 L1261.3,1388.1 L1263.7,1388.4 L1266.2,1388.6 L1268.7,1388.9 L1271.2,1389.1 L1273.7,1389.3 L1276.2,1389.5 L1278.7,1389.7 L1281.1,1390.0 L1283.6,1390.2 L1286.1,1390.4 L1288.6,1390.5 L1291.1,1390.7 L1293.6,1390.9 L1296.1,1391.1 L1298.6,1391.3 L1301.1,1391.4 L1303.5,1391.6 L1306.0,1391.8 L1308.5,1391.9 L1311.0,1392.1 L1313.5,1392.2 L1316.0,1392.4 L1318.5,1392.5 L1321.0,1392.7 L1323.5,1392.8 L1326.0,1392.9 L1328.5,1393.0 L1331.0,1393.2 L1333.5,1393.3 L1336.0,1393.4 L1338.5,1393.5 L1341.0,1393.6 L1343.5,1393.7 L1345.9,1393.8 L1348.4,1393.9 L1350.9,1394.0 L1353.4,1394.1 L1355.9,1394.2 L1358.4,1394.3 L1360.9,1394.4 L1363.4,1394.5 L1365.9,1394.6 L1368.4,1394.6 L1370.9,1394.7 L1373.4,1394.8 L1375.9,1394.9 L1378.4,1394.9 L1380.9,1395.0 L1383.4,1395.1 L1385.9,1395.1 L1388.4,1395.2 L1390.9,1395.3 L1393.4,1395.3 L1395.9,1395.4 L1398.4,1395.4 L1400.9,1395.5 L1403.4,1395.5 L1405.9,1395.6 L1408.4,1395.6 L1410.9,1395.7 L1413.4,1395.7 L1415.9,1395.8 L1418.4,1395.8 L1420.9,1395.9 L1423.4,1395.9 L1425.9,1396.0 L1428.4,1396.0 L1430.9,1396.1 L1433.4,1396.1 L1435.9,1396.1 L1438.4,1396.2 L1440.9,1396.2 L1443.4,1396.3 L1445.9,1396.3 L1448.4,1396.4 L1450.9,1396.4 L1453.4,1396.4 L1455.9,1396.5 L1458.4,1396.5 L1460.9,1396.6 L1463.4,1396.6 L1465.9,1396.6 L1468.4,1396.7 L1470.9,1396.7 L1473.4,1396.8 L1475.9,1396.8 L1478.4,1396.9 L1480.9,1396.9 L1483.4,1397.0 L1485.9,1397.0 L1488.4,1397.0 L1490.9,1397.1 L1493.4,1397.1 L1495.9,1397.2 L1498.4,1397.2 L1500.9,1397.3 L1503.4,1397.3 L1505.9,1397.4 L1508.4,1397.4 L1510.9,1397.5 L1513.4,1397.5 L1515.9,1397.6 L1518.4,1397.6 L1520.9,1397.7 L1523.3,1397.7 L1525.8,1397.8 L1528.3,1397.8 L1530.8,1397.9 L1533.3,1397.9 L1535.8,1397.9 L1538.3,1398.0 L1540.8,1398.0 L1543.3,1398.1 L1545.8,1398.1 L1548.3,1398.2 L1550.8,1398.2 L1553.3,1398.3 L1555.8,1398.3 L1558.3,1398.4 L1560.8,1398.4 L1563.3,1398.5 L1565.8,1398.5 L1568.3,1398.6 L1570.8,1398.6 L1573.3,1398.7 L1575.8,1398.7 L1578.3,1398.8 L1580.7,1398.8 L1583.2,1398.9 L1585.7,1398.9 L1588.2,1398.9 L1590.7,1399.0 L1593.2,1399.0 L1595.7,1399.1 L1598.2,1399.1 L1600.7,1399.2 L1603.2,1399.2 L1605.7,1399.3 L1608.2,1399.3 L1610.7,1399.4 L1613.2,1399.4 L1615.7,1399.4 L1618.2,1399.5 L1620.7,1399.5 L1623.2,1399.6 L1625.7,1399.6 L1628.2,1399.7 L1630.7,1399.7 L1633.2,1399.7 L1635.6,1399.8 L1638.1,1399.8 L1640.6,1399.9 L1643.1,1399.9 L1645.6,1399.9 L1648.1,1400.0 L1650.6,1400.0 L1653.1,1400.0 L1655.6,1400.1 L1658.1,1400.1 L1660.6,1400.2 L1663.1,1400.2 L1665.6,1400.2 L1668.1,1400.3 L1670.6,1400.3 L1673.1,1400.3 L1675.6,1400.4 L1678.1,1400.4 L1680.6,1400.4 L1683.1,1400.5 L1685.6,1400.5 L1688.1,1400.5 L1690.6,1400.5 L1693.0,1400.6 L1695.5,1400.6 L1698.0,1400.6 L1700.5,1400.7 L1703.0,1400.7 L1705.5,1400.7 L1708.0,1400.7 L1710.5,1400.8 L1713.0,1400.8 L1715.5,1400.8 L1718.0,1400.8 L1720.5,1400.8 L1723.0,1400.9 L1725.5,1400.9 L1728.0,1400.9 L1730.5,1400.9 L1733.0,1400.9 L1735.5,1400.9 L1738.0,1401.0 L1740.5,1401.0 L1743.0,1401.0 L1745.5,1401.0 L1748.0,1401.0 L1750.5,1401.0 L1753.0,1401.0 L1755.5,1401.0 L1758.0,1401.0 L1760.5,1401.0 L1763.0,1401.1 L1765.5,1401.1 L1768.0,1401.1 L1770.5,1401.1 L1773.0,1401.1 L1775.5,1401.1 L1778.0,1401.1 L1780.5,1401.1 L1783.0,1401.1 L1785.5,1401.1 L1788.0,1401.1 L1790.5,1401.0 L1793.0,1401.0 L1795.5,1401.0 L1798.0,1401.0 L1800.5,1401.0 L1803.0,1401.0" fill="none" stroke="#B177DE" stroke-width="10.0" stroke-linejoin="round" stroke-linecap="butt"/>
<path d="M256.0,1360.0 L258.5,1360.0 L261.0,1360.1 L263.5,1360.1 L266.0,1360.1 L268.5,1360.1 L271.0,1360.2 L273.5,1360.2 L276.0,1360.2 L278.5,1360.2 L281.0,1360.2 L283.5,1360.2 L286.0,1360.2 L288.5,1360.2 L291.0,1360.2 L293.5,1360.1 L296.0,1360.1 L298.5,1360.1 L301.0,1360.1 L303.5,1360.0 L306.0,1360.0 L308.5,1360.0 L311.0,1359.9 L313.5,1359.9 L316.0,1359.8 L318.6,1359.8 L321.1,1359.7 L323.6,1359.6 L326.1,1359.5 L328.6,1359.5 L331.1,1359.4 L333.6,1359.3 L336.1,1359.2 L338.5,1359.1 L341.0,1359.0 L343.5,1358.9 L346.0,1358.8 L348.5,1358.7 L351.0,1358.6 L353.5,1358.4 L356.0,1358.3 L358.5,1358.2 L361.0,1358.0 L363.5,1357.9 L366.0,1357.7 L368.5,1357.6 L371.0,1357.4 L373.5,1357.2 L376.0,1357.1 L378.5,1356.9 L381.0,1356.7 L383.5,1356.5 L386.0,1356.3 L388.4,1356.1 L390.9,1355.9 L393.4,1355.7 L395.9,1355.5 L398.4,1355.3 L400.9,1355.0 L403.4,1354.8 L405.9,1354.6 L408.3,1354.3 L410.8,1354.1 L413.3,1353.8 L415.8,1353.5 L418.3,1353.3 L420.8,1353.0 L423.2,1352.7 L425.7,1352.4 L428.2,1352.1 L430.7,1351.8 L433.1,1351.5 L435.6,1351.2 L438.1,1350.8 L440.6,1350.5 L443.0,1350.2 L445.5,1349.8 L448.0,1349.5 L450.5,1349.1 L452.9,1348.8 L455.4,1348.4 L457.9,1348.0 L460.3,1347.6 L462.8,1347.2 L465.3,1346.8 L467.7,1346.4 L470.2,1346.0 L472.7,1345.6 L475.1,1345.2 L477.6,1344.7 L480.0,1344.3 L482.5,1343.8 L484.9,1343.4 L487.4,1342.9 L489.9,1342.4 L492.3,1342.0 L494.8,1341.5 L497.2,1341.0 L499.7,1340.5 L502.1,1340.0 L504.6,1339.4 L507.0,1338.9 L509.4,1338.4 L511.9,1337.8 L514.3,1337.3 L516.8,1336.8 L519.2,1336.2 L521.7,1335.6 L524.1,1335.1 L526.5,1334.5 L529.0,1333.9 L531.4,1333.4 L533.8,1332.8 L536.3,1332.2 L538.7,1331.6 L541.2,1331.0 L543.6,1330.4 L546.0,1329.9 L548.5,1329.3 L550.9,1328.7 L553.3,1328.1 L555.8,1327.5 L558.2,1326.9 L560.6,1326.3 L563.1,1325.7 L565.5,1325.1 L567.9,1324.5 L570.4,1324.0 L572.8,1323.4 L575.2,1322.8 L577.7,1322.2 L580.1,1321.6 L582.6,1321.1 L585.0,1320.5 L587.4,1319.9 L589.9,1319.4 L592.3,1318.8 L594.7,1318.3 L597.2,1317.7 L599.6,1317.2 L602.1,1316.7 L604.5,1316.2 L607.0,1315.6 L609.4,1315.1 L611.9,1314.6 L614.3,1314.1 L616.8,1313.7 L619.2,1313.2 L621.7,1312.7 L624.1,1312.3 L626.6,1311.8 L629.0,1311.4 L631.5,1311.0 L633.9,1310.5 L636.4,1310.1 L638.9,1309.7 L641.3,1309.3 L643.8,1309.0 L646.3,1308.6 L648.7,1308.2 L651.2,1307.9 L653.7,1307.6 L656.1,1307.2 L658.6,1306.9 L661.1,1306.6 L663.5,1306.3 L666.0,1306.0 L668.5,1305.7 L671.0,1305.4 L673.5,1305.2 L675.9,1304.9 L678.4,1304.7 L680.9,1304.4 L683.4,1304.2 L685.9,1304.0 L688.3,1303.8 L690.8,1303.6 L693.3,1303.4 L695.8,1303.2 L698.3,1303.0 L700.8,1302.8 L703.3,1302.7 L705.8,1302.5 L708.2,1302.4 L710.7,1302.2 L713.2,1302.1 L715.7,1302.0 L718.2,1301.9 L720.7,1301.8 L723.2,1301.7 L725.7,1301.6 L728.2,1301.5 L730.7,1301.5 L733.2,1301.4 L735.7,1301.3 L738.2,1301.3 L740.7,1301.2 L743.2,1301.2 L745.7,1301.2 L748.2,1301.2 L750.7,1301.2 L753.2,1301.2 L755.7,1301.2 L758.2,1301.2 L760.7,1301.2 L763.2,1301.2 L765.7,1301.3 L768.2,1301.3 L770.7,1301.3 L773.2,1301.4 L775.7,1301.5 L778.2,1301.5 L780.7,1301.6 L783.2,1301.7 L785.7,1301.8 L788.2,1301.9 L790.7,1302.0 L793.2,1302.1 L795.7,1302.2 L798.2,1302.3 L800.7,1302.5 L803.2,1302.6 L805.7,1302.7 L808.2,1302.9 L810.7,1303.0 L813.2,1303.2 L815.7,1303.4 L818.2,1303.5 L820.7,1303.7 L823.2,1303.9 L825.7,1304.1 L828.2,1304.3 L830.7,1304.5 L833.2,1304.7 L835.7,1304.9 L838.2,1305.1 L840.6,1305.4 L843.1,1305.6 L845.6,1305.8 L848.1,1306.1 L850.6,1306.3 L853.1,1306.6 L855.6,1306.8 L858.1,1307.1 L860.6,1307.4 L863.1,1307.6 L865.6,1307.9 L868.1,1308.2 L870.5,1308.5 L873.0,1308.8 L875.5,1309.1 L878.0,1309.4 L880.5,1309.7 L883.0,1310.0 L885.5,1310.3 L887.9,1310.6 L890.4,1311.0 L892.9,1311.3 L895.4,1311.6 L897.9,1312.0 L900.3,1312.3 L902.8,1312.7 L905.3,1313.0 L907.8,1313.4 L910.2,1313.7 L912.7,1314.1 L915.2,1314.5 L917.6,1314.9 L920.1,1315.2 L922.6,1315.6 L925.0,1316.0 L927.5,1316.4 L930.0,1316.9 L932.4,1317.3 L934.9,1317.7 L937.3,1318.1 L939.8,1318.6 L942.3,1319.0 L944.7,1319.4 L947.2,1319.9 L949.6,1320.4 L952.1,1320.8 L954.5,1321.3 L957.0,1321.8 L959.4,1322.3 L961.9,1322.8 L964.3,1323.3 L966.7,1323.8 L969.2,1324.3 L971.6,1324.9 L974.0,1325.4 L976.5,1325.9 L978.9,1326.5 L981.3,1327.1 L983.8,1327.6 L986.2,1328.2 L988.6,1328.8 L991.0,1329.4 L993.4,1330.0 L995.9,1330.6 L998.3,1331.3 L1000.7,1331.9 L1003.1,1332.5 L1005.5,1333.2 L1007.9,1333.9 L1010.3,1334.5 L1012.7,1335.2 L1015.1,1335.9 L1017.5,1336.6 L1019.9,1337.3 L1022.3,1338.0 L1024.7,1338.7 L1027.1,1339.4 L1029.5,1340.1 L1031.9,1340.8 L1034.3,1341.5 L1036.7,1342.3 L1039.1,1343.0 L1041.5,1343.7 L1043.9,1344.5 L1046.3,1345.2 L1048.7,1345.9 L1051.0,1346.7 L1053.4,1347.4 L1055.8,1348.1 L1058.2,1348.9 L1060.6,1349.6 L1063.0,1350.4 L1065.4,1351.1 L1067.8,1351.8 L1070.2,1352.6 L1072.6,1353.3 L1075.0,1354.0 L1077.4,1354.7 L1079.8,1355.5 L1082.2,1356.2 L1084.6,1356.9 L1087.0,1357.6 L1089.4,1358.3 L1091.8,1359.0 L1094.2,1359.7 L1096.6,1360.4 L1099.0,1361.1 L1101.4,1361.8 L1103.8,1362.4 L1106.2,1363.1 L1108.6,1363.8 L1111.0,1364.4 L1113.4,1365.1 L1115.8,1365.7 L1118.3,1366.4 L1120.7,1367.0 L1123.1,1367.6 L1125.5,1368.3 L1127.9,1368.9 L1130.4,1369.5 L1132.8,1370.1 L1135.2,1370.7 L1137.6,1371.3 L1140.1,1371.8 L1142.5,1372.4 L1144.9,1373.0 L1147.3,1373.5 L1149.8,1374.1 L1152.2,1374.6 L1154.6,1375.2 L1157.1,1375.7 L1159.5,1376.2 L1162.0,1376.7 L1164.4,1377.3 L1166.8,1377.8 L1169.3,1378.2 L1171.7,1378.7 L1174.2,1379.2 L1176.6,1379.7 L1179.1,1380.1 L1181.5,1380.6 L1184.0,1381.0 L1186.4,1381.5 L1188.9,1381.9 L1191.3,1382.3 L1193.8,1382.7 L1196.2,1383.1 L1198.7,1383.5 L1201.2,1383.9 L1203.6,1384.3 L1206.1,1384.6 L1208.5,1385.0 L1211.0,1385.4 L1213.5,1385.7 L1215.9,1386.0 L1218.4,1386.4 L1220.9,1386.7 L1223.4,1387.0 L1225.8,1387.3 L1228.3,1387.6 L1230.8,1387.9 L1233.2,1388.2 L1235.7,1388.5 L1238.2,1388.8 L1240.7,1389.1 L1243.1,1389.3 L1245.6,1389.6 L1248.1,1389.8 L1250.6,1390.1 L1253.1,1390.3 L1255.5,1390.5 L1258.0,1390.8 L1260.5,1391.0 L1263.0,1391.2 L1265.5,1391.4 L1268.0,1391.6 L1270.5,1391.8 L1273.0,1392.0 L1275.4,1392.2 L1277.9,1392.4 L1280.4,1392.6 L1282.9,1392.7 L1285.4,1392.9 L1287.9,1393.1 L1290.4,1393.2 L1292.9,1393.4 L1295.4,1393.5 L1297.9,1393.7 L1300.4,1393.8 L1302.9,1394.0 L1305.4,1394.1 L1307.9,1394.2 L1310.4,1394.3 L1312.9,1394.4 L1315.4,1394.6 L1317.9,1394.7 L1320.4,1394.8 L1322.9,1394.9 L1325.4,1395.0 L1327.9,1395.1 L1330.4,1395.2 L1332.9,1395.3 L1335.4,1395.3 L1337.9,1395.4 L1340.4,1395.5 L1342.9,1395.6 L1345.4,1395.7 L1347.9,1395.7 L1350.4,1395.8 L1352.9,1395.9 L1355.4,1395.9 L1357.9,1396.0 L1360.4,1396.0 L1362.9,1396.1 L1365.4,1396.1 L1367.9,1396.2 L1370.4,1396.2 L1372.9,1396.3 L1375.5,1396.3 L1378.0,1396.4 L1380.5,1396.4 L1383.0,1396.4 L1385.5,1396.5 L1388.0,1396.5 L1390.5,1396.5 L1393.0,1396.6 L1395.5,1396.6 L1398.0,1396.6 L1400.5,1396.7 L1403.0,1396.7 L1405.6,1396.7 L1408.1,1396.7 L1410.6,1396.8 L1413.1,1396.8 L1415.6,1396.8 L1418.1,1396.8 L1420.6,1396.8 L1423.1,1396.9 L1425.6,1396.9 L1428.1,1396.9 L1430.6,1396.9 L1433.1,1397.0 L1435.6,1397.0 L1438.2,1397.0 L1440.7,1397.0 L1443.2,1397.0 L1445.7,1397.1 L1448.2,1397.1 L1450.7,1397.1 L1453.2,1397.1 L1455.7,1397.1 L1458.2,1397.2 L1460.7,1397.2 L1463.2,1397.2 L1465.7,1397.2 L1468.2,1397.3 L1470.7,1397.3 L1473.2,1397.3 L1475.7,1397.4 L1478.2,1397.4 L1480.7,1397.4 L1483.2,1397.5 L1485.7,1397.5 L1488.2,1397.5 L1490.7,1397.6 L1493.2,1397.6 L1495.7,1397.6 L1498.2,1397.7 L1500.7,1397.7 L1503.2,1397.7 L1505.7,1397.8 L1508.2,1397.8 L1510.7,1397.8 L1513.2,1397.9 L1515.7,1397.9 L1518.2,1398.0 L1520.7,1398.0 L1523.2,1398.1 L1525.7,1398.1 L1528.2,1398.1 L1530.7,1398.2 L1533.2,1398.2 L1535.7,1398.3 L1538.2,1398.3 L1540.7,1398.4 L1543.2,1398.4 L1545.7,1398.4 L1548.2,1398.5 L1550.7,1398.5 L1553.2,1398.6 L1555.7,1398.6 L1558.2,1398.7 L1560.6,1398.7 L1563.1,1398.8 L1565.6,1398.8 L1568.1,1398.9 L1570.6,1398.9 L1573.1,1398.9 L1575.6,1399.0 L1578.1,1399.0 L1580.6,1399.1 L1583.1,1399.1 L1585.6,1399.2 L1588.1,1399.2 L1590.6,1399.3 L1593.1,1399.3 L1595.6,1399.4 L1598.1,1399.4 L1600.6,1399.5 L1603.1,1399.5 L1605.5,1399.6 L1608.0,1399.6 L1610.5,1399.7 L1613.0,1399.7 L1615.5,1399.7 L1618.0,1399.8 L1620.5,1399.8 L1623.0,1399.9 L1625.5,1399.9 L1628.0,1400.0 L1630.5,1400.0 L1633.0,1400.1 L1635.5,1400.1 L1638.0,1400.2 L1640.5,1400.2 L1643.0,1400.2 L1645.4,1400.3 L1647.9,1400.3 L1650.4,1400.4 L1652.9,1400.4 L1655.4,1400.5 L1657.9,1400.5 L1660.4,1400.5 L1662.9,1400.6 L1665.4,1400.6 L1667.9,1400.7 L1670.4,1400.7 L1672.9,1400.7 L1675.4,1400.8 L1677.9,1400.8 L1680.4,1400.8 L1682.9,1400.9 L1685.4,1400.9 L1687.9,1400.9 L1690.4,1401.0 L1692.9,1401.0 L1695.4,1401.0 L1697.9,1401.1 L1700.4,1401.1 L1702.9,1401.1 L1705.4,1401.2 L1707.9,1401.2 L1710.3,1401.2 L1712.8,1401.2 L1715.3,1401.3 L1717.8,1401.3 L1720.3,1401.3 L1722.8,1401.3 L1725.3,1401.4 L1727.8,1401.4 L1730.3,1401.4 L1732.8,1401.4 L1735.3,1401.4 L1737.8,1401.5 L1740.3,1401.5 L1742.9,1401.5 L1745.4,1401.5 L1747.9,1401.5 L1750.4,1401.5 L1752.9,1401.5 L1755.4,1401.6 L1757.9,1401.6 L1760.4,1401.6 L1762.9,1401.6 L1765.4,1401.6 L1767.9,1401.6 L1770.4,1401.6 L1772.9,1401.6 L1775.4,1401.6 L1777.9,1401.6 L1780.4,1401.6 L1782.9,1401.6 L1785.4,1401.6 L1787.9,1401.6 L1790.5,1401.6 L1793.0,1401.6 L1795.5,1401.5 L1798.0,1401.5 L1800.5,1401.5 L1803.0,1401.5" fill="none" stroke="#CC9900" stroke-width="10.0" stroke-linejoin="round" stroke-linecap="butt"/>
<path d="M256.0,1361.0 L258.5,1361.0 L261.0,1361.0 L263.5,1361.1 L266.0,1361.1 L268.5,1361.1 L271.0,1361.1 L273.5,1361.1 L276.0,1361.1 L278.5,1361.1 L281.0,1361.1 L283.4,1361.1 L285.9,1361.1 L288.4,1361.1 L290.9,1361.1 L293.4,1361.1 L295.9,1361.1 L298.4,1361.0 L300.9,1361.0 L303.4,1361.0 L305.9,1361.0 L308.4,1360.9 L310.9,1360.9 L313.4,1360.9 L315.9,1360.8 L318.4,1360.8 L320.9,1360.7 L323.4,1360.7 L325.9,1360.6 L328.4,1360.6 L330.9,1360.5 L333.4,1360.4 L335.9,1360.4 L338.4,1360.3 L340.9,1360.2 L343.4,1360.1 L345.9,1360.0 L348.4,1359.9 L350.9,1359.9 L353.3,1359.8 L355.8,1359.7 L358.3,1359.5 L360.8,1359.4 L363.3,1359.3 L365.8,1359.2 L368.3,1359.1 L370.8,1359.0 L373.3,1358.8 L375.8,1358.7 L378.3,1358.6 L380.8,1358.4 L383.3,1358.3 L385.8,1358.1 L388.3,1358.0 L390.7,1357.8 L393.2,1357.6 L395.7,1357.5 L398.2,1357.3 L400.7,1357.1 L403.2,1356.9 L405.7,1356.8 L408.2,1356.6 L410.7,1356.4 L413.1,1356.2 L415.6,1356.0 L418.1,1355.8 L420.6,1355.5 L423.1,1355.3 L425.6,1355.1 L428.1,1354.9 L430.5,1354.6 L433.0,1354.4 L435.5,1354.1 L438.0,1353.9 L440.5,1353.6 L443.0,1353.4 L445.4,1353.1 L447.9,1352.8 L450.4,1352.6 L452.9,1352.3 L455.3,1352.0 L457.8,1351.7 L460.3,1351.4 L462.8,1351.1 L465.3,1350.8 L467.7,1350.5 L470.2,1350.2 L472.7,1349.8 L475.1,1349.5 L477.6,1349.2 L480.1,1348.8 L482.6,1348.5 L485.0,1348.1 L487.5,1347.8 L490.0,1347.4 L492.4,1347.0 L494.9,1346.6 L497.4,1346.3 L499.8,1345.9 L502.3,1345.5 L504.7,1345.1 L507.2,1344.7 L509.7,1344.3 L512.1,1343.8 L514.6,1343.4 L517.0,1343.0 L519.5,1342.5 L522.0,1342.1 L524.4,1341.7 L526.9,1341.2 L529.3,1340.8 L531.8,1340.3 L534.2,1339.8 L536.7,1339.4 L539.1,1338.9 L541.6,1338.4 L544.0,1338.0 L546.5,1337.5 L548.9,1337.0 L551.4,1336.6 L553.8,1336.1 L556.3,1335.6 L558.7,1335.1 L561.2,1334.7 L563.6,1334.2 L566.1,1333.7 L568.5,1333.3 L571.0,1332.8 L573.4,1332.3 L575.9,1331.9 L578.3,1331.4 L580.8,1330.9 L583.2,1330.5 L585.7,1330.0 L588.1,1329.6 L590.6,1329.1 L593.0,1328.7 L595.5,1328.3 L598.0,1327.8 L600.4,1327.4 L602.9,1327.0 L605.3,1326.6 L607.8,1326.2 L610.2,1325.8 L612.7,1325.4 L615.2,1325.0 L617.6,1324.6 L620.1,1324.3 L622.5,1323.9 L625.0,1323.5 L627.5,1323.2 L629.9,1322.9 L632.4,1322.5 L634.9,1322.2 L637.3,1321.9 L639.8,1321.6 L642.3,1321.3 L644.7,1321.0 L647.2,1320.8 L649.7,1320.5 L652.2,1320.2 L654.6,1320.0 L657.1,1319.7 L659.6,1319.5 L662.1,1319.3 L664.6,1319.1 L667.0,1318.9 L669.5,1318.7 L672.0,1318.5 L674.5,1318.3 L677.0,1318.1 L679.4,1317.9 L681.9,1317.8 L684.4,1317.6 L686.9,1317.5 L689.4,1317.3 L691.9,1317.2 L694.4,1317.1 L696.8,1317.0 L699.3,1316.9 L701.8,1316.8 L704.3,1316.7 L706.8,1316.6 L709.3,1316.5 L711.8,1316.4 L714.3,1316.4 L716.8,1316.3 L719.3,1316.2 L721.7,1316.2 L724.2,1316.2 L726.7,1316.1 L729.2,1316.1 L731.7,1316.1 L734.2,1316.1 L736.7,1316.1 L739.2,1316.1 L741.7,1316.1 L744.2,1316.1 L746.7,1316.1 L749.2,1316.2 L751.7,1316.2 L754.2,1316.2 L756.7,1316.3 L759.2,1316.3 L761.7,1316.4 L764.2,1316.5 L766.7,1316.5 L769.2,1316.6 L771.7,1316.7 L774.2,1316.8 L776.7,1316.9 L779.2,1317.0 L781.7,1317.1 L784.2,1317.2 L786.7,1317.3 L789.1,1317.4 L791.6,1317.6 L794.1,1317.7 L796.6,1317.8 L799.1,1318.0 L801.6,1318.1 L804.1,1318.3 L806.6,1318.5 L809.1,1318.6 L811.6,1318.8 L814.1,1319.0 L816.6,1319.1 L819.1,1319.3 L821.6,1319.5 L824.1,1319.7 L826.6,1319.9 L829.1,1320.1 L831.6,1320.3 L834.1,1320.5 L836.6,1320.8 L839.1,1321.0 L841.6,1321.2 L844.1,1321.4 L846.6,1321.7 L849.0,1321.9 L851.5,1322.2 L854.0,1322.4 L856.5,1322.7 L859.0,1322.9 L861.5,1323.2 L864.0,1323.4 L866.5,1323.7 L869.0,1324.0 L871.5,1324.3 L873.9,1324.5 L876.4,1324.8 L878.9,1325.1 L881.4,1325.4 L883.9,1325.7 L886.4,1326.0 L888.8,1326.3 L891.3,1326.6 L893.8,1326.9 L896.3,1327.2 L898.8,1327.5 L901.3,1327.8 L903.7,1328.2 L906.2,1328.5 L908.7,1328.8 L911.2,1329.2 L913.6,1329.5 L916.1,1329.8 L918.6,1330.2 L921.1,1330.5 L923.5,1330.8 L926.0,1331.2 L928.5,1331.5 L930.9,1331.9 L933.4,1332.2 L935.9,1332.6 L938.3,1333.0 L940.8,1333.3 L943.3,1333.7 L945.7,1334.1 L948.2,1334.5 L950.6,1334.8 L953.1,1335.2 L955.6,1335.6 L958.0,1336.0 L960.5,1336.4 L962.9,1336.8 L965.4,1337.2 L967.8,1337.6 L970.3,1338.0 L972.7,1338.4 L975.2,1338.9 L977.6,1339.3 L980.1,1339.7 L982.5,1340.2 L985.0,1340.6 L987.4,1341.1 L989.9,1341.5 L992.3,1342.0 L994.8,1342.4 L997.2,1342.9 L999.6,1343.4 L1002.1,1343.9 L1004.5,1344.3 L1007.0,1344.8 L1009.4,1345.3 L1011.8,1345.8 L1014.3,1346.4 L1016.7,1346.9 L1019.1,1347.4 L1021.6,1347.9 L1024.0,1348.5 L1026.4,1349.0 L1028.9,1349.5 L1031.3,1350.1 L1033.7,1350.7 L1036.1,1351.2 L1038.6,1351.8 L1041.0,1352.4 L1043.4,1353.0 L1045.8,1353.6 L1048.2,1354.2 L1050.7,1354.8 L1053.1,1355.4 L1055.5,1356.0 L1057.9,1356.7 L1060.3,1357.3 L1062.8,1357.9 L1065.2,1358.6 L1067.6,1359.2 L1070.0,1359.9 L1072.4,1360.5 L1074.8,1361.2 L1077.2,1361.8 L1079.7,1362.5 L1082.1,1363.1 L1084.5,1363.8 L1086.9,1364.4 L1089.3,1365.1 L1091.7,1365.7 L1094.1,1366.4 L1096.6,1367.0 L1099.0,1367.6 L1101.4,1368.3 L1103.8,1368.9 L1106.2,1369.5 L1108.7,1370.2 L1111.1,1370.8 L1113.5,1371.4 L1115.9,1372.0 L1118.4,1372.6 L1120.8,1373.2 L1123.2,1373.8 L1125.6,1374.4 L1128.1,1374.9 L1130.5,1375.5 L1132.9,1376.0 L1135.4,1376.6 L1137.8,1377.1 L1140.3,1377.6 L1142.7,1378.1 L1145.1,1378.6 L1147.6,1379.1 L1150.0,1379.5 L1152.5,1380.0 L1154.9,1380.4 L1157.4,1380.9 L1159.9,1381.3 L1162.3,1381.7 L1164.8,1382.1 L1167.2,1382.5 L1169.7,1382.9 L1172.2,1383.2 L1174.6,1383.6 L1177.1,1384.0 L1179.6,1384.3 L1182.0,1384.6 L1184.5,1385.0 L1187.0,1385.3 L1189.5,1385.6 L1191.9,1385.9 L1194.4,1386.2 L1196.9,1386.5 L1199.4,1386.8 L1201.8,1387.1 L1204.3,1387.3 L1206.8,1387.6 L1209.3,1387.9 L1211.8,1388.1 L1214.2,1388.4 L1216.7,1388.6 L1219.2,1388.9 L1221.7,1389.1 L1224.2,1389.4 L1226.6,1389.6 L1229.1,1389.8 L1231.6,1390.0 L1234.1,1390.3 L1236.6,1390.5 L1239.1,1390.7 L1241.6,1390.9 L1244.0,1391.1 L1246.5,1391.3 L1249.0,1391.5 L1251.5,1391.7 L1254.0,1391.8 L1256.5,1392.0 L1259.0,1392.2 L1261.5,1392.4 L1263.9,1392.5 L1266.4,1392.7 L1268.9,1392.9 L1271.4,1393.0 L1273.9,1393.2 L1276.4,1393.3 L1278.9,1393.5 L1281.4,1393.6 L1283.9,1393.8 L1286.4,1393.9 L1288.8,1394.1 L1291.3,1394.2 L1293.8,1394.3 L1296.3,1394.5 L1298.8,1394.6 L1301.3,1394.7 L1303.8,1394.8 L1306.3,1394.9 L1308.8,1395.0 L1311.3,1395.2 L1313.8,1395.3 L1316.3,1395.4 L1318.8,1395.5 L1321.3,1395.6 L1323.8,1395.7 L1326.3,1395.8 L1328.7,1395.9 L1331.2,1395.9 L1333.7,1396.0 L1336.2,1396.1 L1338.7,1396.2 L1341.2,1396.3 L1343.7,1396.4 L1346.2,1396.4 L1348.7,1396.5 L1351.2,1396.6 L1353.7,1396.7 L1356.2,1396.7 L1358.7,1396.8 L1361.2,1396.9 L1363.7,1396.9 L1366.2,1397.0 L1368.7,1397.0 L1371.2,1397.1 L1373.7,1397.2 L1376.2,1397.2 L1378.7,1397.3 L1381.2,1397.3 L1383.7,1397.4 L1386.2,1397.4 L1388.7,1397.5 L1391.2,1397.5 L1393.7,1397.6 L1396.2,1397.6 L1398.7,1397.7 L1401.2,1397.7 L1403.7,1397.8 L1406.2,1397.8 L1408.7,1397.8 L1411.2,1397.9 L1413.7,1397.9 L1416.2,1398.0 L1418.7,1398.0 L1421.2,1398.0 L1423.7,1398.1 L1426.2,1398.1 L1428.7,1398.2 L1431.2,1398.2 L1433.7,1398.2 L1436.2,1398.3 L1438.6,1398.3 L1441.1,1398.3 L1443.6,1398.4 L1446.1,1398.4 L1448.6,1398.4 L1451.1,1398.5 L1453.6,1398.5 L1456.1,1398.6 L1458.6,1398.6 L1461.1,1398.6 L1463.6,1398.7 L1466.1,1398.7 L1468.6,1398.7 L1471.1,1398.8 L1473.6,1398.8 L1476.1,1398.8 L1478.6,1398.9 L1481.1,1398.9 L1483.6,1399.0 L1486.1,1399.0 L1488.6,1399.0 L1491.1,1399.1 L1493.6,1399.1 L1496.1,1399.2 L1498.6,1399.2 L1501.1,1399.2 L1503.6,1399.3 L1506.1,1399.3 L1508.6,1399.4 L1511.0,1399.4 L1513.5,1399.4 L1516.0,1399.5 L1518.5,1399.5 L1521.0,1399.5 L1523.5,1399.6 L1526.0,1399.6 L1528.5,1399.7 L1531.0,1399.7 L1533.5,1399.7 L1536.0,1399.8 L1538.5,1399.8 L1541.0,1399.9 L1543.5,1399.9 L1546.0,1399.9 L1548.5,1400.0 L1551.0,1400.0 L1553.5,1400.1 L1555.9,1400.1 L1558.4,1400.1 L1560.9,1400.2 L1563.4,1400.2 L1565.9,1400.3 L1568.4,1400.3 L1570.9,1400.3 L1573.4,1400.4 L1575.9,1400.4 L1578.4,1400.4 L1580.9,1400.5 L1583.4,1400.5 L1585.9,1400.6 L1588.4,1400.6 L1590.9,1400.6 L1593.4,1400.7 L1595.8,1400.7 L1598.3,1400.7 L1600.8,1400.8 L1603.3,1400.8 L1605.8,1400.8 L1608.3,1400.9 L1610.8,1400.9 L1613.3,1400.9 L1615.8,1401.0 L1618.3,1401.0 L1620.8,1401.0 L1623.3,1401.1 L1625.8,1401.1 L1628.3,1401.1 L1630.8,1401.2 L1633.3,1401.2 L1635.7,1401.2 L1638.2,1401.3 L1640.7,1401.3 L1643.2,1401.3 L1645.7,1401.4 L1648.2,1401.4 L1650.7,1401.4 L1653.2,1401.4 L1655.7,1401.5 L1658.2,1401.5 L1660.7,1401.5 L1663.2,1401.6 L1665.7,1401.6 L1668.2,1401.6 L1670.7,1401.6 L1673.2,1401.7 L1675.7,1401.7 L1678.1,1401.7 L1680.6,1401.7 L1683.1,1401.7 L1685.6,1401.8 L1688.1,1401.8 L1690.6,1401.8 L1693.1,1401.8 L1695.6,1401.8 L1698.1,1401.9 L1700.6,1401.9 L1703.1,1401.9 L1705.6,1401.9 L1708.1,1401.9 L1710.6,1401.9 L1713.1,1402.0 L1715.6,1402.0 L1718.1,1402.0 L1720.6,1402.0 L1723.1,1402.0 L1725.6,1402.0 L1728.1,1402.0 L1730.6,1402.1 L1733.0,1402.1 L1735.5,1402.1 L1738.0,1402.1 L1740.5,1402.1 L1743.0,1402.1 L1745.5,1402.1 L1748.0,1402.1 L1750.5,1402.1 L1753.0,1402.1 L1755.5,1402.1 L1758.0,1402.1 L1760.5,1402.1 L1763.0,1402.1 L1765.5,1402.1 L1768.0,1402.1 L1770.5,1402.1 L1773.0,1402.1 L1775.5,1402.1 L1778.0,1402.1 L1780.5,1402.1 L1783.0,1402.1 L1785.5,1402.1 L1788.0,1402.1 L1790.5,1402.1 L1793.0,1402.1 L1795.5,1402.0 L1798.0,1402.0 L1800.5,1402.0 L1803.0,1402.0" fill="none" stroke="#00CBCC" stroke-width="10.0" stroke-linejoin="round" stroke-linecap="butt"/>
<rect x="1241.5" y="27.5" width="591" height="565.5" fill="none" stroke="#000" stroke-width="1.2"/>
<line x1="1249.8" y1="71.0" x2="1394.3" y2="71.0" stroke="#515151" stroke-width="9.6" stroke-linecap="round"/>
<text transform="translate(1411.7,93.6) scale(1,1.045)" font-size="65">10 mg/L Stock</text>
<line x1="1249.8" y1="150.7" x2="1394.3" y2="150.7" stroke="#F14040" stroke-width="9.6" stroke-linecap="round"/>
<text transform="translate(1411.7,173.1) scale(1,1.045)" font-size="65">10 min</text>
<line x1="1249.8" y1="230.3" x2="1394.3" y2="230.3" stroke="#1A6FDF" stroke-width="9.6" stroke-linecap="round"/>
<text transform="translate(1411.7,252.6) scale(1,1.045)" font-size="65">20 min</text>
<line x1="1249.8" y1="310.0" x2="1394.3" y2="310.0" stroke="#37AD6B" stroke-width="9.6" stroke-linecap="round"/>
<text transform="translate(1411.7,332.1) scale(1,1.045)" font-size="65">30 min</text>
<line x1="1249.8" y1="389.7" x2="1394.3" y2="389.7" stroke="#B177DE" stroke-width="9.6" stroke-linecap="round"/>
<text transform="translate(1411.7,411.6) scale(1,1.045)" font-size="65">40 min</text>
<line x1="1249.8" y1="469.4" x2="1394.3" y2="469.4" stroke="#CC9900" stroke-width="9.6" stroke-linecap="round"/>
<text transform="translate(1411.7,491.1) scale(1,1.045)" font-size="65">50 min</text>
<line x1="1249.8" y1="549.0" x2="1394.3" y2="549.0" stroke="#00CBCC" stroke-width="9.6" stroke-linecap="round"/>
<text transform="translate(1411.7,570.6) scale(1,1.045)" font-size="65">60 min</text>
</svg>
</body></html>
